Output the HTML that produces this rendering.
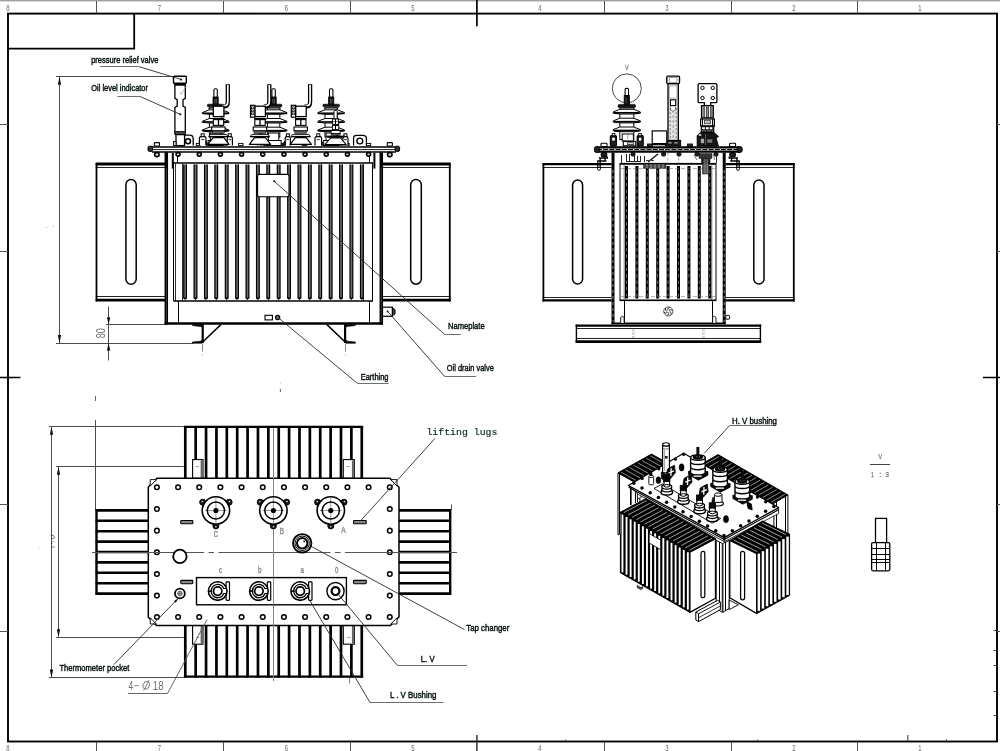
<!DOCTYPE html>
<html><head><meta charset="utf-8"><title>Transformer outline drawing</title>
<style>html,body{margin:0;padding:0;background:#fff;}body{width:1000px;height:751px;position:relative;overflow:hidden;font-family:"Liberation Sans",sans-serif;}</style></head>
<body>
<svg width="1000" height="751" viewBox="0 0 1000 751" style="display:block;position:absolute;left:0;top:0;will-change:transform;opacity:0.9999">
<rect x="0" y="0" width="1000" height="1.4" fill="#a0a0a0" stroke="none" stroke-width="0"/>
<rect x="8" y="13.6" width="989" height="727.9" fill="none" stroke="#000" stroke-width="1.9"/>
<polyline points="134.2,13.6 134.2,48.7 8,48.7" fill="none" stroke="#000" stroke-width="1.8" stroke-linejoin="miter"/>
<line x1="96.5" y1="1" x2="96.5" y2="13" stroke="#555" stroke-width="1"/>
<line x1="96.5" y1="742" x2="96.5" y2="751" stroke="#555" stroke-width="1"/>
<line x1="223.5" y1="1" x2="223.5" y2="13" stroke="#555" stroke-width="1"/>
<line x1="223.5" y1="742" x2="223.5" y2="751" stroke="#555" stroke-width="1"/>
<line x1="350.5" y1="1" x2="350.5" y2="13" stroke="#555" stroke-width="1"/>
<line x1="350.5" y1="742" x2="350.5" y2="751" stroke="#555" stroke-width="1"/>
<line x1="604.5" y1="1" x2="604.5" y2="13" stroke="#555" stroke-width="1"/>
<line x1="604.5" y1="742" x2="604.5" y2="751" stroke="#555" stroke-width="1"/>
<line x1="731.5" y1="1" x2="731.5" y2="13" stroke="#555" stroke-width="1"/>
<line x1="731.5" y1="742" x2="731.5" y2="751" stroke="#555" stroke-width="1"/>
<line x1="857.5" y1="1" x2="857.5" y2="13" stroke="#555" stroke-width="1"/>
<line x1="857.5" y1="742" x2="857.5" y2="751" stroke="#555" stroke-width="1"/>
<line x1="476.9" y1="0" x2="476.9" y2="26.3" stroke="#000" stroke-width="1.7"/>
<line x1="476.9" y1="735" x2="476.9" y2="751" stroke="#333" stroke-width="1.5"/>
<line x1="0" y1="377.5" x2="20.5" y2="377.5" stroke="#000" stroke-width="1.5"/>
<line x1="983" y1="377.5" x2="1000" y2="377.5" stroke="#000" stroke-width="1.5"/>
<line x1="0" y1="124.5" x2="8" y2="124.5" stroke="#555" stroke-width="1"/>
<line x1="997" y1="124.5" x2="1000" y2="124.5" stroke="#555" stroke-width="1"/>
<line x1="0" y1="251.5" x2="8" y2="251.5" stroke="#555" stroke-width="1"/>
<line x1="997" y1="251.5" x2="1000" y2="251.5" stroke="#555" stroke-width="1"/>
<line x1="0" y1="504.5" x2="8" y2="504.5" stroke="#555" stroke-width="1"/>
<line x1="997" y1="504.5" x2="1000" y2="504.5" stroke="#555" stroke-width="1"/>
<line x1="0" y1="631.5" x2="8" y2="631.5" stroke="#555" stroke-width="1"/>
<line x1="997" y1="631.5" x2="1000" y2="631.5" stroke="#555" stroke-width="1"/>
<text x="7.8" y="10.9" font-family="'Liberation Sans', sans-serif" font-size="8.8" fill="#6a6a6a" text-anchor="middle" textLength="3.3" lengthAdjust="spacingAndGlyphs">8</text>
<text x="7.8" y="750.8" font-family="'Liberation Sans', sans-serif" font-size="8.8" fill="#6a6a6a" text-anchor="middle" textLength="3.3" lengthAdjust="spacingAndGlyphs">8</text>
<text x="159.5" y="10.9" font-family="'Liberation Sans', sans-serif" font-size="8.8" fill="#6a6a6a" text-anchor="middle" textLength="3.3" lengthAdjust="spacingAndGlyphs">7</text>
<text x="159.5" y="750.8" font-family="'Liberation Sans', sans-serif" font-size="8.8" fill="#6a6a6a" text-anchor="middle" textLength="3.3" lengthAdjust="spacingAndGlyphs">7</text>
<text x="286.5" y="10.9" font-family="'Liberation Sans', sans-serif" font-size="8.8" fill="#6a6a6a" text-anchor="middle" textLength="3.3" lengthAdjust="spacingAndGlyphs">6</text>
<text x="286.5" y="750.8" font-family="'Liberation Sans', sans-serif" font-size="8.8" fill="#6a6a6a" text-anchor="middle" textLength="3.3" lengthAdjust="spacingAndGlyphs">6</text>
<text x="413" y="10.9" font-family="'Liberation Sans', sans-serif" font-size="8.8" fill="#6a6a6a" text-anchor="middle" textLength="3.3" lengthAdjust="spacingAndGlyphs">5</text>
<text x="413" y="750.8" font-family="'Liberation Sans', sans-serif" font-size="8.8" fill="#6a6a6a" text-anchor="middle" textLength="3.3" lengthAdjust="spacingAndGlyphs">5</text>
<text x="540" y="10.9" font-family="'Liberation Sans', sans-serif" font-size="8.8" fill="#6a6a6a" text-anchor="middle" textLength="3.3" lengthAdjust="spacingAndGlyphs">4</text>
<text x="540" y="750.8" font-family="'Liberation Sans', sans-serif" font-size="8.8" fill="#6a6a6a" text-anchor="middle" textLength="3.3" lengthAdjust="spacingAndGlyphs">4</text>
<text x="667" y="10.9" font-family="'Liberation Sans', sans-serif" font-size="8.8" fill="#6a6a6a" text-anchor="middle" textLength="3.3" lengthAdjust="spacingAndGlyphs">3</text>
<text x="667" y="750.8" font-family="'Liberation Sans', sans-serif" font-size="8.8" fill="#6a6a6a" text-anchor="middle" textLength="3.3" lengthAdjust="spacingAndGlyphs">3</text>
<text x="794" y="10.9" font-family="'Liberation Sans', sans-serif" font-size="8.8" fill="#6a6a6a" text-anchor="middle" textLength="3.3" lengthAdjust="spacingAndGlyphs">2</text>
<text x="794" y="750.8" font-family="'Liberation Sans', sans-serif" font-size="8.8" fill="#6a6a6a" text-anchor="middle" textLength="3.3" lengthAdjust="spacingAndGlyphs">2</text>
<text x="920" y="10.9" font-family="'Liberation Sans', sans-serif" font-size="8.8" fill="#6a6a6a" text-anchor="middle" textLength="3.3" lengthAdjust="spacingAndGlyphs">1</text>
<text x="920" y="750.8" font-family="'Liberation Sans', sans-serif" font-size="8.8" fill="#6a6a6a" text-anchor="middle" textLength="3.3" lengthAdjust="spacingAndGlyphs">1</text>
<line x1="993.5" y1="630.5" x2="996.5" y2="630.5" stroke="#444" stroke-width="1"/>
<line x1="993.5" y1="650.5" x2="996.5" y2="650.5" stroke="#444" stroke-width="1"/>
<line x1="993.5" y1="665.5" x2="996.5" y2="665.5" stroke="#444" stroke-width="1"/>
<line x1="993.5" y1="691.5" x2="996.5" y2="691.5" stroke="#444" stroke-width="1"/>
<line x1="993.5" y1="715.5" x2="996.5" y2="715.5" stroke="#444" stroke-width="1"/>
<line x1="907.8" y1="735" x2="907.8" y2="741" stroke="#555" stroke-width="1.2"/>
<line x1="946.5" y1="739" x2="946.5" y2="741" stroke="#777" stroke-width="1"/>
<line x1="757.5" y1="739.2" x2="757.5" y2="741" stroke="#777" stroke-width="1"/>
<line x1="565.5" y1="739.2" x2="565.5" y2="741" stroke="#777" stroke-width="1"/>
<line x1="56" y1="76.5" x2="173.5" y2="76.5" stroke="#4c4c4c" stroke-width="1"/>
<line x1="59.5" y1="77" x2="59.5" y2="343" stroke="#4c4c4c" stroke-width="1"/>
<polygon points="59.5,76.8 61.2,84.8 57.8,84.8" fill="#111" stroke="none" stroke-width="0" stroke-linejoin="miter"/>
<polygon points="59.5,343 57.8,335 61.2,335" fill="#111" stroke="none" stroke-width="0" stroke-linejoin="miter"/>
<line x1="56" y1="343.5" x2="193" y2="343.5" stroke="#4c4c4c" stroke-width="1"/>
<line x1="106" y1="324.5" x2="165" y2="324.5" stroke="#4c4c4c" stroke-width="1"/>
<line x1="108.5" y1="306.5" x2="108.5" y2="360.5" stroke="#4c4c4c" stroke-width="1"/>
<polygon points="108.6,324.6 106.9,317.2 110.3,317.2" fill="#111" stroke="none" stroke-width="0" stroke-linejoin="miter"/>
<polygon points="108.6,343.2 110.3,350.6 106.9,350.6" fill="#111" stroke="none" stroke-width="0" stroke-linejoin="miter"/>
<text x="105.2" y="338.3" font-family="'Liberation Sans', sans-serif" font-size="13.6" fill="#707070" textLength="10.2" lengthAdjust="spacingAndGlyphs" transform="rotate(-90 105.2 338.3)">80</text>
<circle cx="46.5" cy="227.6" r="0.5" fill="#999" stroke="none" stroke-width="0"/>
<circle cx="53.6" cy="226.6" r="0.5" fill="#999" stroke="none" stroke-width="0"/>
<rect x="95.7" y="163" width="69.8" height="138" fill="#fff" stroke="none" stroke-width="0"/>
<line x1="95.7" y1="164" x2="165.5" y2="164" stroke="#000" stroke-width="3"/>
<line x1="95.7" y1="167.5" x2="165.5" y2="167.5" stroke="#222" stroke-width="1"/>
<line x1="95.7" y1="296.5" x2="165.5" y2="296.5" stroke="#222" stroke-width="1"/>
<line x1="95.7" y1="300.1" x2="165.5" y2="300.1" stroke="#000" stroke-width="2.8"/>
<line x1="96.5" y1="163" x2="96.5" y2="301.4" stroke="#000" stroke-width="1.8"/>
<rect x="382" y="163" width="68.6" height="138" fill="#fff" stroke="none" stroke-width="0"/>
<line x1="382" y1="164" x2="450.6" y2="164" stroke="#000" stroke-width="3"/>
<line x1="382" y1="167.5" x2="450.6" y2="167.5" stroke="#222" stroke-width="1"/>
<line x1="382" y1="296.5" x2="450.6" y2="296.5" stroke="#222" stroke-width="1"/>
<line x1="382" y1="300.1" x2="450.6" y2="300.1" stroke="#000" stroke-width="2.8"/>
<line x1="449.8" y1="163" x2="449.8" y2="301.4" stroke="#000" stroke-width="1.8"/>
<rect x="125.9" y="179.5" width="10.3" height="104.7" fill="#fff" stroke="#000" stroke-width="1.5" rx="5.15"/>
<rect x="410.7" y="179.5" width="10.6" height="104.7" fill="#fff" stroke="#000" stroke-width="1.5" rx="5.3"/>
<line x1="166.3" y1="151" x2="166.3" y2="324.5" stroke="#000" stroke-width="3.5"/>
<line x1="166.3" y1="168" x2="166.3" y2="322" stroke="#555" stroke-width="0.7"/>
<line x1="381.3" y1="151" x2="381.3" y2="324.5" stroke="#000" stroke-width="3.5"/>
<line x1="381.3" y1="168" x2="381.3" y2="322" stroke="#555" stroke-width="0.7"/>
<line x1="173.5" y1="163" x2="173.5" y2="301" stroke="#000" stroke-width="1"/>
<line x1="372.5" y1="163" x2="372.5" y2="301" stroke="#000" stroke-width="1"/>
<line x1="172.8" y1="153" x2="172.8" y2="168.6" stroke="#000" stroke-width="2"/>
<line x1="374.4" y1="153" x2="374.4" y2="168.6" stroke="#000" stroke-width="2"/>
<line x1="173" y1="163" x2="373.4" y2="163" stroke="#000" stroke-width="1.7"/>
<line x1="175.5" y1="164" x2="175.5" y2="301" stroke="#333" stroke-width="1"/>
<line x1="182.5" y1="164" x2="182.5" y2="301" stroke="#333" stroke-width="1"/>
<line x1="363.5" y1="164" x2="363.5" y2="301" stroke="#333" stroke-width="1"/>
<rect x="183.4" y="164.5" width="3.4" height="134.3" fill="#6e6e6e" stroke="none" stroke-width="0"/>
<line x1="183.75" y1="164.5" x2="183.75" y2="298.6" stroke="#000" stroke-width="1.15"/>
<line x1="186.45" y1="164.5" x2="186.45" y2="298.6" stroke="#000" stroke-width="1.15"/>
<polygon points="183.2,297.5 187,297.5 185.1,300.2" fill="#000" stroke="none" stroke-width="0" stroke-linejoin="miter"/>
<rect x="193.8" y="164.5" width="3.4" height="134.3" fill="#6e6e6e" stroke="none" stroke-width="0"/>
<line x1="194.15" y1="164.5" x2="194.15" y2="298.6" stroke="#000" stroke-width="1.15"/>
<line x1="196.84" y1="164.5" x2="196.84" y2="298.6" stroke="#000" stroke-width="1.15"/>
<polygon points="193.59,297.5 197.4,297.5 195.5,300.2" fill="#000" stroke="none" stroke-width="0" stroke-linejoin="miter"/>
<rect x="204.19" y="164.5" width="3.4" height="134.3" fill="#6e6e6e" stroke="none" stroke-width="0"/>
<line x1="204.54" y1="164.5" x2="204.54" y2="298.6" stroke="#000" stroke-width="1.15"/>
<line x1="207.24" y1="164.5" x2="207.24" y2="298.6" stroke="#000" stroke-width="1.15"/>
<polygon points="203.99,297.5 207.79,297.5 205.89,300.2" fill="#000" stroke="none" stroke-width="0" stroke-linejoin="miter"/>
<rect x="214.59" y="164.5" width="3.4" height="134.3" fill="#6e6e6e" stroke="none" stroke-width="0"/>
<line x1="214.94" y1="164.5" x2="214.94" y2="298.6" stroke="#000" stroke-width="1.15"/>
<line x1="217.63" y1="164.5" x2="217.63" y2="298.6" stroke="#000" stroke-width="1.15"/>
<polygon points="214.38,297.5 218.19,297.5 216.28,300.2" fill="#000" stroke="none" stroke-width="0" stroke-linejoin="miter"/>
<rect x="224.98" y="164.5" width="3.4" height="134.3" fill="#6e6e6e" stroke="none" stroke-width="0"/>
<line x1="225.33" y1="164.5" x2="225.33" y2="298.6" stroke="#000" stroke-width="1.15"/>
<line x1="228.03" y1="164.5" x2="228.03" y2="298.6" stroke="#000" stroke-width="1.15"/>
<polygon points="224.78,297.5 228.58,297.5 226.68,300.2" fill="#000" stroke="none" stroke-width="0" stroke-linejoin="miter"/>
<rect x="235.38" y="164.5" width="3.4" height="134.3" fill="#6e6e6e" stroke="none" stroke-width="0"/>
<line x1="235.72" y1="164.5" x2="235.72" y2="298.6" stroke="#000" stroke-width="1.15"/>
<line x1="238.42" y1="164.5" x2="238.42" y2="298.6" stroke="#000" stroke-width="1.15"/>
<polygon points="235.17,297.5 238.97,297.5 237.07,300.2" fill="#000" stroke="none" stroke-width="0" stroke-linejoin="miter"/>
<rect x="245.77" y="164.5" width="3.4" height="134.3" fill="#6e6e6e" stroke="none" stroke-width="0"/>
<line x1="246.12" y1="164.5" x2="246.12" y2="298.6" stroke="#000" stroke-width="1.15"/>
<line x1="248.82" y1="164.5" x2="248.82" y2="298.6" stroke="#000" stroke-width="1.15"/>
<polygon points="245.57,297.5 249.37,297.5 247.47,300.2" fill="#000" stroke="none" stroke-width="0" stroke-linejoin="miter"/>
<rect x="256.17" y="164.5" width="3.4" height="134.3" fill="#6e6e6e" stroke="none" stroke-width="0"/>
<line x1="256.51" y1="164.5" x2="256.51" y2="298.6" stroke="#000" stroke-width="1.15"/>
<line x1="259.22" y1="164.5" x2="259.22" y2="298.6" stroke="#000" stroke-width="1.15"/>
<polygon points="255.97,297.5 259.76,297.5 257.87,300.2" fill="#000" stroke="none" stroke-width="0" stroke-linejoin="miter"/>
<rect x="266.56" y="164.5" width="3.4" height="134.3" fill="#6e6e6e" stroke="none" stroke-width="0"/>
<line x1="266.91" y1="164.5" x2="266.91" y2="298.6" stroke="#000" stroke-width="1.15"/>
<line x1="269.61" y1="164.5" x2="269.61" y2="298.6" stroke="#000" stroke-width="1.15"/>
<polygon points="266.36,297.5 270.16,297.5 268.26,300.2" fill="#000" stroke="none" stroke-width="0" stroke-linejoin="miter"/>
<rect x="276.95" y="164.5" width="3.4" height="134.3" fill="#6e6e6e" stroke="none" stroke-width="0"/>
<line x1="277.3" y1="164.5" x2="277.3" y2="298.6" stroke="#000" stroke-width="1.15"/>
<line x1="280" y1="164.5" x2="280" y2="298.6" stroke="#000" stroke-width="1.15"/>
<polygon points="276.75,297.5 280.55,297.5 278.65,300.2" fill="#000" stroke="none" stroke-width="0" stroke-linejoin="miter"/>
<rect x="287.35" y="164.5" width="3.4" height="134.3" fill="#6e6e6e" stroke="none" stroke-width="0"/>
<line x1="287.7" y1="164.5" x2="287.7" y2="298.6" stroke="#000" stroke-width="1.15"/>
<line x1="290.4" y1="164.5" x2="290.4" y2="298.6" stroke="#000" stroke-width="1.15"/>
<polygon points="287.15,297.5 290.95,297.5 289.05,300.2" fill="#000" stroke="none" stroke-width="0" stroke-linejoin="miter"/>
<rect x="297.75" y="164.5" width="3.4" height="134.3" fill="#6e6e6e" stroke="none" stroke-width="0"/>
<line x1="298.09" y1="164.5" x2="298.09" y2="298.6" stroke="#000" stroke-width="1.15"/>
<line x1="300.8" y1="164.5" x2="300.8" y2="298.6" stroke="#000" stroke-width="1.15"/>
<polygon points="297.55,297.5 301.34,297.5 299.44,300.2" fill="#000" stroke="none" stroke-width="0" stroke-linejoin="miter"/>
<rect x="308.14" y="164.5" width="3.4" height="134.3" fill="#6e6e6e" stroke="none" stroke-width="0"/>
<line x1="308.49" y1="164.5" x2="308.49" y2="298.6" stroke="#000" stroke-width="1.15"/>
<line x1="311.19" y1="164.5" x2="311.19" y2="298.6" stroke="#000" stroke-width="1.15"/>
<polygon points="307.94,297.5 311.74,297.5 309.84,300.2" fill="#000" stroke="none" stroke-width="0" stroke-linejoin="miter"/>
<rect x="318.54" y="164.5" width="3.4" height="134.3" fill="#6e6e6e" stroke="none" stroke-width="0"/>
<line x1="318.88" y1="164.5" x2="318.88" y2="298.6" stroke="#000" stroke-width="1.15"/>
<line x1="321.59" y1="164.5" x2="321.59" y2="298.6" stroke="#000" stroke-width="1.15"/>
<polygon points="318.34,297.5 322.13,297.5 320.24,300.2" fill="#000" stroke="none" stroke-width="0" stroke-linejoin="miter"/>
<rect x="328.93" y="164.5" width="3.4" height="134.3" fill="#6e6e6e" stroke="none" stroke-width="0"/>
<line x1="329.28" y1="164.5" x2="329.28" y2="298.6" stroke="#000" stroke-width="1.15"/>
<line x1="331.98" y1="164.5" x2="331.98" y2="298.6" stroke="#000" stroke-width="1.15"/>
<polygon points="328.73,297.5 332.53,297.5 330.63,300.2" fill="#000" stroke="none" stroke-width="0" stroke-linejoin="miter"/>
<rect x="339.32" y="164.5" width="3.4" height="134.3" fill="#6e6e6e" stroke="none" stroke-width="0"/>
<line x1="339.67" y1="164.5" x2="339.67" y2="298.6" stroke="#000" stroke-width="1.15"/>
<line x1="342.38" y1="164.5" x2="342.38" y2="298.6" stroke="#000" stroke-width="1.15"/>
<polygon points="339.12,297.5 342.92,297.5 341.02,300.2" fill="#000" stroke="none" stroke-width="0" stroke-linejoin="miter"/>
<rect x="349.72" y="164.5" width="3.4" height="134.3" fill="#6e6e6e" stroke="none" stroke-width="0"/>
<line x1="350.07" y1="164.5" x2="350.07" y2="298.6" stroke="#000" stroke-width="1.15"/>
<line x1="352.77" y1="164.5" x2="352.77" y2="298.6" stroke="#000" stroke-width="1.15"/>
<polygon points="349.52,297.5 353.32,297.5 351.42,300.2" fill="#000" stroke="none" stroke-width="0" stroke-linejoin="miter"/>
<rect x="360.12" y="164.5" width="3.4" height="134.3" fill="#6e6e6e" stroke="none" stroke-width="0"/>
<line x1="360.46" y1="164.5" x2="360.46" y2="298.6" stroke="#000" stroke-width="1.15"/>
<line x1="363.17" y1="164.5" x2="363.17" y2="298.6" stroke="#000" stroke-width="1.15"/>
<polygon points="359.92,297.5 363.71,297.5 361.81,300.2" fill="#000" stroke="none" stroke-width="0" stroke-linejoin="miter"/>
<line x1="173.6" y1="301" x2="373" y2="301" stroke="#000" stroke-width="1.4"/>
<line x1="178.5" y1="301" x2="178.5" y2="323.5" stroke="#000" stroke-width="1"/>
<line x1="369.5" y1="301" x2="369.5" y2="323.5" stroke="#000" stroke-width="1"/>
<line x1="164.6" y1="323.5" x2="383" y2="323.5" stroke="#000" stroke-width="2.7"/>
<rect x="265" y="315.3" width="7.4" height="4.6" fill="#fff" stroke="#000" stroke-width="1.1"/>
<circle cx="277.7" cy="317.5" r="2.1" fill="#777" stroke="#000" stroke-width="1.1"/>
<rect x="257.6" y="174.4" width="31.4" height="22.4" fill="#fff" stroke="#000" stroke-width="1.1" rx="1.8"/>
<circle cx="274.3" cy="181.3" r="1.1" fill="#111" stroke="none" stroke-width="0"/>
<rect x="382.5" y="307.2" width="9.9" height="9.1" fill="#fff" stroke="#000" stroke-width="1.2"/>
<polygon points="392.4,308 395,309.6 395,314 392.4,315.6" fill="#444" stroke="#000" stroke-width="1" stroke-linejoin="miter"/>
<circle cx="387.6" cy="311.6" r="1" fill="#111" stroke="none" stroke-width="0"/>
<line x1="202.7" y1="324" x2="202.7" y2="343" stroke="#000" stroke-width="2.2"/>
<polygon points="192.4,324.6 202.7,324.6 202.7,327.2 200.2,326.4 192.4,325.6" fill="#000" stroke="#000" stroke-width="0.6" stroke-linejoin="round"/>
<polygon points="192.4,343.3 201.7,343.3 201.7,340.2 200.2,341.2 192.4,342" fill="#000" stroke="#000" stroke-width="0.6" stroke-linejoin="round"/>
<line x1="221.1" y1="324.4" x2="201.9" y2="342.8" stroke="#000" stroke-width="1.5"/>
<line x1="202.5" y1="343.5" x2="202.5" y2="351.5" stroke="#888" stroke-width="1"/>
<circle cx="202.3" cy="355" r="0.6" fill="#999" stroke="none" stroke-width="0"/>
<line x1="345.1" y1="324" x2="345.1" y2="343" stroke="#000" stroke-width="2.2"/>
<polygon points="355.4,324.6 345.1,324.6 345.1,327.2 347.6,326.4 355.4,325.6" fill="#000" stroke="#000" stroke-width="0.6" stroke-linejoin="round"/>
<polygon points="355.4,343.3 346.1,343.3 346.1,340.2 347.6,341.2 355.4,342" fill="#000" stroke="#000" stroke-width="0.6" stroke-linejoin="round"/>
<line x1="326.7" y1="324.4" x2="345.9" y2="342.8" stroke="#000" stroke-width="1.5"/>
<line x1="345.5" y1="343.5" x2="345.5" y2="351.5" stroke="#888" stroke-width="1"/>
<circle cx="345.5" cy="355" r="0.6" fill="#999" stroke="none" stroke-width="0"/>
<rect x="149" y="145.6" width="249.6" height="6.6" fill="#fff" stroke="none" stroke-width="0"/>
<line x1="152" y1="147" x2="396" y2="147" stroke="#000" stroke-width="1.6"/>
<line x1="152" y1="149.6" x2="396" y2="149.6" stroke="#000" stroke-width="0.9"/>
<line x1="152" y1="152.1" x2="396" y2="152.1" stroke="#000" stroke-width="1.5"/>
<rect x="148" y="146.2" width="4.5" height="5.2" fill="#333" stroke="#000" stroke-width="1" rx="1.5"/>
<rect x="154.3" y="142.6" width="5.2" height="3.4" fill="#fff" stroke="#000" stroke-width="1.1" rx="0.8"/>
<rect x="154.7" y="152.6" width="4.4" height="4" fill="#ddd" stroke="#000" stroke-width="1.7" rx="1.6"/>
<rect x="395.1" y="146.2" width="4.5" height="5.2" fill="#333" stroke="#000" stroke-width="1" rx="1.5"/>
<rect x="387.2" y="142.6" width="5.2" height="3.4" fill="#fff" stroke="#000" stroke-width="1.1" rx="0.8"/>
<rect x="387.6" y="152.6" width="4.4" height="4" fill="#ddd" stroke="#000" stroke-width="1.7" rx="1.6"/>
<rect x="176.07" y="152.6" width="4" height="3.6" fill="#ddd" stroke="#000" stroke-width="1.7" rx="1.6"/>
<rect x="197.24" y="152.6" width="4" height="3.6" fill="#ddd" stroke="#000" stroke-width="1.7" rx="1.6"/>
<rect x="218.41" y="152.6" width="4" height="3.6" fill="#ddd" stroke="#000" stroke-width="1.7" rx="1.6"/>
<rect x="239.58" y="152.6" width="4" height="3.6" fill="#ddd" stroke="#000" stroke-width="1.7" rx="1.6"/>
<rect x="260.75" y="152.6" width="4" height="3.6" fill="#ddd" stroke="#000" stroke-width="1.7" rx="1.6"/>
<rect x="281.92" y="152.6" width="4" height="3.6" fill="#ddd" stroke="#000" stroke-width="1.7" rx="1.6"/>
<rect x="303.09" y="152.6" width="4" height="3.6" fill="#ddd" stroke="#000" stroke-width="1.7" rx="1.6"/>
<rect x="324.26" y="152.6" width="4" height="3.6" fill="#ddd" stroke="#000" stroke-width="1.7" rx="1.6"/>
<rect x="345.43" y="152.6" width="4" height="3.6" fill="#ddd" stroke="#000" stroke-width="1.7" rx="1.6"/>
<rect x="366.6" y="152.6" width="4" height="3.6" fill="#ddd" stroke="#000" stroke-width="1.7" rx="1.6"/>
<rect x="196.3" y="143.4" width="4.4" height="2.2" fill="#fff" stroke="#000" stroke-width="0.9"/>
<rect x="238.6" y="143.4" width="4.4" height="2.2" fill="#fff" stroke="#000" stroke-width="0.9"/>
<rect x="259.8" y="143.4" width="4.4" height="2.2" fill="#fff" stroke="#000" stroke-width="0.9"/>
<rect x="280.8" y="143.4" width="4.4" height="2.2" fill="#fff" stroke="#000" stroke-width="0.9"/>
<rect x="302.3" y="143.4" width="4.4" height="2.2" fill="#fff" stroke="#000" stroke-width="0.9"/>
<rect x="344.8" y="143.4" width="4.4" height="2.2" fill="#fff" stroke="#000" stroke-width="0.9"/>
<rect x="366.3" y="143.4" width="4.4" height="2.2" fill="#fff" stroke="#000" stroke-width="0.9"/>
<line x1="177.5" y1="156.5" x2="177.5" y2="163" stroke="#000" stroke-width="1"/>
<line x1="369.5" y1="156.5" x2="369.5" y2="163" stroke="#000" stroke-width="1"/>
<rect x="173.5" y="76.3" width="12.8" height="6.9" fill="#fff" stroke="#000" stroke-width="1.4" rx="0.8"/>
<circle cx="181.1" cy="79.6" r="1.1" fill="#111" stroke="none" stroke-width="0"/>
<line x1="174.2" y1="84.6" x2="185.6" y2="84.6" stroke="#000" stroke-width="1.4"/>
<path d="M174.9 85 L174.9 98.4 L177.2 99.6 L177.2 106.2 L174.9 107.4 L174.9 133 L185.3 133 L185.3 107.4 L183 106.2 L183 99.6 L185.3 98.4 L185.3 85 Z" fill="#fff" stroke="#000" stroke-width="1.3"/>
<circle cx="180.3" cy="114.3" r="1.1" fill="#111" stroke="none" stroke-width="0"/>
<line x1="186.5" y1="86" x2="181.5" y2="93.5" stroke="#999" stroke-width="0.6"/>
<circle cx="181.2" cy="93.4" r="0.9" fill="none" stroke="#999" stroke-width="0.5"/>
<rect x="174.9" y="131.6" width="10.4" height="3" fill="#444" stroke="#000" stroke-width="0.8"/>
<rect x="176" y="134.6" width="8.6" height="11" fill="#fff" stroke="#000" stroke-width="1.3"/>
<rect x="173.6" y="141.5" width="2.4" height="4.1" fill="#fff" stroke="#000" stroke-width="1"/>
<path d="M184.6 145.4 L184.6 135.2 L189.6 135.2 Q193.2 135.2 193.2 139 L193.2 145.4" fill="#fff" stroke="#000" stroke-width="1.3"/>
<circle cx="188" cy="141.2" r="2.5" fill="#fff" stroke="#000" stroke-width="1.5"/>
<path d="M353.6 145.4 L353.6 138 Q353.6 135.4 356.5 135.4 L363 135.4 Q366.4 135.4 366.4 138.5 L366.4 145.4" fill="#fff" stroke="#000" stroke-width="1.2"/>
<circle cx="359.8" cy="141" r="2.9" fill="#fff" stroke="#000" stroke-width="1.4"/>
<rect x="213.9" y="88.8" width="3.4" height="8.7" fill="#fff" stroke="#000" stroke-width="1.1" rx="1.2"/>
<rect x="213" y="97" width="5.2" height="7.5" fill="#111" stroke="#000" stroke-width="0.8"/>
<line x1="215" y1="99" x2="215" y2="103.5" stroke="#999" stroke-width="0.5"/>
<line x1="216.4" y1="99" x2="216.4" y2="103.5" stroke="#999" stroke-width="0.5"/>
<rect x="207.3" y="104.2" width="16.6" height="2.6" fill="#111" stroke="#000" stroke-width="0.6" rx="1"/>
<rect x="208.6" y="106.8" width="14" height="1.6" fill="#666" stroke="#222" stroke-width="0.4"/>
<rect x="209.4" y="108" width="12.4" height="29" fill="#fff" stroke="#000" stroke-width="1"/>
<polygon points="209.4,109.8 221.8,109.8 229,112.6 229,113.6 221.8,114.3 209.4,114.3 202.2,113.6 202.2,112.6" fill="#fff" stroke="#000" stroke-width="1" stroke-linejoin="round"/>
<line x1="203" y1="113.2" x2="228.2" y2="113.2" stroke="#000" stroke-width="1.5"/>
<polygon points="209.4,118.5 221.8,118.5 229,121.3 229,122.3 221.8,123 209.4,123 202.2,122.3 202.2,121.3" fill="#fff" stroke="#000" stroke-width="1" stroke-linejoin="round"/>
<line x1="203" y1="121.9" x2="228.2" y2="121.9" stroke="#000" stroke-width="1.5"/>
<polygon points="209.4,127.2 221.8,127.2 229,130 229,131 221.8,131.7 209.4,131.7 202.2,131 202.2,130" fill="#fff" stroke="#000" stroke-width="1" stroke-linejoin="round"/>
<line x1="203" y1="130.6" x2="228.2" y2="130.6" stroke="#000" stroke-width="1.5"/>
<rect x="210.4" y="133" width="10.4" height="8" fill="#fff" stroke="#000" stroke-width="1"/>
<rect x="208.1" y="140.5" width="15" height="5" fill="#fff" stroke="#000" stroke-width="1"/>
<path d="M199.4 145.5 L199.4 138.4 Q199.4 136.6 201 136.6 L204.4 136.6 Q206 136.6 206 138.4 L206 145.5" fill="#fff" stroke="#000" stroke-width="1.2"/>
<rect x="201.2" y="133.8" width="3" height="2.8" fill="#fff" stroke="#000" stroke-width="1"/>
<line x1="201.2" y1="139.6" x2="204.2" y2="139.6" stroke="#000" stroke-width="0.8"/>
<path d="M227.2 145.5 L227.2 138.4 Q227.2 136.6 228.8 136.6 L230.8 136.6 Q232.4 136.6 232.4 138.4 L232.4 145.5" fill="#fff" stroke="#000" stroke-width="1.2"/>
<rect x="228.3" y="133.8" width="3" height="2.8" fill="#fff" stroke="#000" stroke-width="1"/>
<line x1="228.3" y1="139.6" x2="231.3" y2="139.6" stroke="#000" stroke-width="0.8"/>
<polygon points="208.1,145.2 206,141 206,145.2" fill="#222" stroke="#000" stroke-width="0.8" stroke-linejoin="miter"/>
<polygon points="223.1,145.2 227.2,141 227.2,145.2" fill="#222" stroke="#000" stroke-width="0.8" stroke-linejoin="miter"/>
<path d="M 227.8 84.2 L 227.8 101.5 Q 227.8 106.3 224.8 106.3 L 222.3 106.3" fill="none" stroke="#000" stroke-width="4.3"/>
<path d="M 227.8 84.9 L 227.8 101.5 Q 227.6 105.6 224.8 105.6 L 222.3 105.6" fill="none" stroke="#fff" stroke-width="1.7"/>
<rect x="213.3" y="106.2" width="10.6" height="10.4" fill="#fff" stroke="#000" stroke-width="1.3"/>
<rect x="213.3" y="119.6" width="10.4" height="5.8" fill="#fff" stroke="#000" stroke-width="1.1"/>
<line x1="218.5" y1="119.6" x2="218.5" y2="125.4" stroke="#000" stroke-width="1.3"/>
<line x1="212.7" y1="118.5" x2="224.3" y2="118.5" stroke="#000" stroke-width="1"/>
<rect x="211.7" y="127" width="13.4" height="3.8" fill="#fff" stroke="#000" stroke-width="1.1"/>
<rect x="212.5" y="131" width="11.8" height="2.4" fill="#666" stroke="#000" stroke-width="0.5"/>
<polygon points="208.8,136.4 228.1,136.4 226.5,134.4 210.3,134.4" fill="#fff" stroke="#000" stroke-width="0.9" stroke-linejoin="round"/>
<line x1="208.7" y1="136.7" x2="228.1" y2="136.7" stroke="#000" stroke-width="1.3"/>
<polygon points="213.1,137.6 223.9,137.6 229.1,144.4 207.9,144.4" fill="#fff" stroke="#000" stroke-width="1.2" stroke-linejoin="round"/>
<rect x="271.9" y="88.8" width="3.4" height="8.7" fill="#fff" stroke="#000" stroke-width="1.1" rx="1.2"/>
<rect x="271" y="97" width="5.2" height="7.5" fill="#111" stroke="#000" stroke-width="0.8"/>
<line x1="273" y1="99" x2="273" y2="103.5" stroke="#999" stroke-width="0.5"/>
<line x1="274.4" y1="99" x2="274.4" y2="103.5" stroke="#999" stroke-width="0.5"/>
<rect x="265.3" y="104.2" width="16.6" height="2.6" fill="#111" stroke="#000" stroke-width="0.6" rx="1"/>
<rect x="266.6" y="106.8" width="14" height="1.6" fill="#666" stroke="#222" stroke-width="0.4"/>
<rect x="267.4" y="108" width="12.4" height="29" fill="#fff" stroke="#000" stroke-width="1"/>
<polygon points="267.4,109.8 279.8,109.8 287,112.6 287,113.6 279.8,114.3 267.4,114.3 260.2,113.6 260.2,112.6" fill="#fff" stroke="#000" stroke-width="1" stroke-linejoin="round"/>
<line x1="261" y1="113.2" x2="286.2" y2="113.2" stroke="#000" stroke-width="1.5"/>
<polygon points="267.4,118.5 279.8,118.5 287,121.3 287,122.3 279.8,123 267.4,123 260.2,122.3 260.2,121.3" fill="#fff" stroke="#000" stroke-width="1" stroke-linejoin="round"/>
<line x1="261" y1="121.9" x2="286.2" y2="121.9" stroke="#000" stroke-width="1.5"/>
<polygon points="267.4,127.2 279.8,127.2 287,130 287,131 279.8,131.7 267.4,131.7 260.2,131 260.2,130" fill="#fff" stroke="#000" stroke-width="1" stroke-linejoin="round"/>
<line x1="261" y1="130.6" x2="286.2" y2="130.6" stroke="#000" stroke-width="1.5"/>
<rect x="268.4" y="133" width="10.4" height="8" fill="#fff" stroke="#000" stroke-width="1"/>
<rect x="266.1" y="140.5" width="15" height="5" fill="#fff" stroke="#000" stroke-width="1"/>
<path d="M257.4 145.5 L257.4 138.4 Q257.4 136.6 259 136.6 L262.4 136.6 Q264 136.6 264 138.4 L264 145.5" fill="#fff" stroke="#000" stroke-width="1.2"/>
<rect x="259.2" y="133.8" width="3" height="2.8" fill="#fff" stroke="#000" stroke-width="1"/>
<line x1="259.2" y1="139.6" x2="262.2" y2="139.6" stroke="#000" stroke-width="0.8"/>
<path d="M285.2 145.5 L285.2 138.4 Q285.2 136.6 286.8 136.6 L288.8 136.6 Q290.4 136.6 290.4 138.4 L290.4 145.5" fill="#fff" stroke="#000" stroke-width="1.2"/>
<rect x="286.3" y="133.8" width="3" height="2.8" fill="#fff" stroke="#000" stroke-width="1"/>
<line x1="286.3" y1="139.6" x2="289.3" y2="139.6" stroke="#000" stroke-width="0.8"/>
<polygon points="266.1,145.2 264,141 264,145.2" fill="#222" stroke="#000" stroke-width="0.8" stroke-linejoin="miter"/>
<polygon points="281.1,145.2 285.2,141 285.2,145.2" fill="#222" stroke="#000" stroke-width="0.8" stroke-linejoin="miter"/>
<path d="M 269.3 84.2 L 269.3 101.5 Q 269.3 106.3 266.3 106.3 L 263.8 106.3" fill="none" stroke="#000" stroke-width="4.3"/>
<path d="M 269.3 84.9 L 269.3 101.5 Q 269.1 105.6 266.3 105.6 L 263.8 105.6" fill="none" stroke="#fff" stroke-width="1.7"/>
<rect x="254.8" y="106.2" width="10.6" height="10.4" fill="#fff" stroke="#000" stroke-width="1.3"/>
<rect x="250.5" y="105.3" width="4.3" height="11.9" fill="#fff" stroke="#000" stroke-width="1.2"/>
<rect x="251.4" y="106.9" width="2.2" height="1.8" fill="#fff" stroke="#000" stroke-width="0.7"/>
<rect x="251.4" y="109.9" width="2.2" height="1.8" fill="#fff" stroke="#000" stroke-width="0.7"/>
<rect x="251.4" y="112.9" width="2.2" height="1.8" fill="#fff" stroke="#000" stroke-width="0.7"/>
<rect x="254.8" y="119.6" width="10.4" height="5.8" fill="#fff" stroke="#000" stroke-width="1.1"/>
<line x1="260" y1="119.6" x2="260" y2="125.4" stroke="#000" stroke-width="1.3"/>
<line x1="254.2" y1="118.5" x2="265.8" y2="118.5" stroke="#000" stroke-width="1"/>
<rect x="253.2" y="127" width="13.4" height="3.8" fill="#fff" stroke="#000" stroke-width="1.1"/>
<rect x="254" y="131" width="11.8" height="2.4" fill="#666" stroke="#000" stroke-width="0.5"/>
<polygon points="250.3,136.4 269.6,136.4 268,134.4 251.8,134.4" fill="#fff" stroke="#000" stroke-width="0.9" stroke-linejoin="round"/>
<line x1="250.2" y1="136.7" x2="269.6" y2="136.7" stroke="#000" stroke-width="1.3"/>
<polygon points="254.6,137.6 265.4,137.6 270.6,144.4 249.4,144.4" fill="#fff" stroke="#000" stroke-width="1.2" stroke-linejoin="round"/>
<path d="M 310.1 84.2 L 310.1 101.5 Q 310.1 106.3 307.1 106.3 L 304.6 106.3" fill="none" stroke="#000" stroke-width="4.3"/>
<path d="M 310.1 84.9 L 310.1 101.5 Q 309.9 105.6 307.1 105.6 L 304.6 105.6" fill="none" stroke="#fff" stroke-width="1.7"/>
<rect x="295.6" y="106.2" width="10.6" height="10.4" fill="#fff" stroke="#000" stroke-width="1.3"/>
<rect x="291.3" y="105.3" width="4.3" height="11.9" fill="#fff" stroke="#000" stroke-width="1.2"/>
<rect x="292.2" y="106.9" width="2.2" height="1.8" fill="#fff" stroke="#000" stroke-width="0.7"/>
<rect x="292.2" y="109.9" width="2.2" height="1.8" fill="#fff" stroke="#000" stroke-width="0.7"/>
<rect x="292.2" y="112.9" width="2.2" height="1.8" fill="#fff" stroke="#000" stroke-width="0.7"/>
<rect x="295.6" y="119.6" width="10.4" height="5.8" fill="#fff" stroke="#000" stroke-width="1.1"/>
<line x1="300.8" y1="119.6" x2="300.8" y2="125.4" stroke="#000" stroke-width="1.3"/>
<line x1="295" y1="118.5" x2="306.6" y2="118.5" stroke="#000" stroke-width="1"/>
<rect x="294" y="127" width="13.4" height="3.8" fill="#fff" stroke="#000" stroke-width="1.1"/>
<rect x="294.8" y="131" width="11.8" height="2.4" fill="#666" stroke="#000" stroke-width="0.5"/>
<polygon points="291.1,136.4 310.4,136.4 308.8,134.4 292.6,134.4" fill="#fff" stroke="#000" stroke-width="0.9" stroke-linejoin="round"/>
<line x1="291" y1="136.7" x2="310.4" y2="136.7" stroke="#000" stroke-width="1.3"/>
<polygon points="295.4,137.6 306.2,137.6 311.4,144.4 290.2,144.4" fill="#fff" stroke="#000" stroke-width="1.2" stroke-linejoin="round"/>
<rect x="329.5" y="88.8" width="3.4" height="8.7" fill="#fff" stroke="#000" stroke-width="1.1" rx="1.2"/>
<rect x="328.6" y="97" width="5.2" height="7.5" fill="#111" stroke="#000" stroke-width="0.8"/>
<line x1="330.6" y1="99" x2="330.6" y2="103.5" stroke="#999" stroke-width="0.5"/>
<line x1="332" y1="99" x2="332" y2="103.5" stroke="#999" stroke-width="0.5"/>
<rect x="322.9" y="104.2" width="16.6" height="2.6" fill="#111" stroke="#000" stroke-width="0.6" rx="1"/>
<rect x="324.2" y="106.8" width="14" height="1.6" fill="#666" stroke="#222" stroke-width="0.4"/>
<rect x="325" y="108" width="12.4" height="29" fill="#fff" stroke="#000" stroke-width="1"/>
<polygon points="325,109.8 337.4,109.8 344.6,112.6 344.6,113.6 337.4,114.3 325,114.3 317.8,113.6 317.8,112.6" fill="#fff" stroke="#000" stroke-width="1" stroke-linejoin="round"/>
<line x1="318.6" y1="113.2" x2="343.8" y2="113.2" stroke="#000" stroke-width="1.5"/>
<polygon points="325,118.5 337.4,118.5 344.6,121.3 344.6,122.3 337.4,123 325,123 317.8,122.3 317.8,121.3" fill="#fff" stroke="#000" stroke-width="1" stroke-linejoin="round"/>
<line x1="318.6" y1="121.9" x2="343.8" y2="121.9" stroke="#000" stroke-width="1.5"/>
<polygon points="325,127.2 337.4,127.2 344.6,130 344.6,131 337.4,131.7 325,131.7 317.8,131 317.8,130" fill="#fff" stroke="#000" stroke-width="1" stroke-linejoin="round"/>
<line x1="318.6" y1="130.6" x2="343.8" y2="130.6" stroke="#000" stroke-width="1.5"/>
<rect x="326" y="133" width="10.4" height="8" fill="#fff" stroke="#000" stroke-width="1"/>
<rect x="323.7" y="140.5" width="15" height="5" fill="#fff" stroke="#000" stroke-width="1"/>
<path d="M315 145.5 L315 138.4 Q315 136.6 316.6 136.6 L320 136.6 Q321.6 136.6 321.6 138.4 L321.6 145.5" fill="#fff" stroke="#000" stroke-width="1.2"/>
<rect x="316.8" y="133.8" width="3" height="2.8" fill="#fff" stroke="#000" stroke-width="1"/>
<line x1="316.8" y1="139.6" x2="319.8" y2="139.6" stroke="#000" stroke-width="0.8"/>
<path d="M342.8 145.5 L342.8 138.4 Q342.8 136.6 344.4 136.6 L346.4 136.6 Q348 136.6 348 138.4 L348 145.5" fill="#fff" stroke="#000" stroke-width="1.2"/>
<rect x="343.9" y="133.8" width="3" height="2.8" fill="#fff" stroke="#000" stroke-width="1"/>
<line x1="343.9" y1="139.6" x2="346.9" y2="139.6" stroke="#000" stroke-width="0.8"/>
<polygon points="323.7,145.2 321.6,141 321.6,145.2" fill="#222" stroke="#000" stroke-width="0.8" stroke-linejoin="miter"/>
<polygon points="338.7,145.2 342.8,141 342.8,145.2" fill="#222" stroke="#000" stroke-width="0.8" stroke-linejoin="miter"/>
<rect x="334" y="110.5" width="3.2" height="8.5" fill="#fff" stroke="#000" stroke-width="0.9" rx="0.8"/>
<rect x="332.6" y="119" width="6" height="5.5" fill="#fff" stroke="#000" stroke-width="0.9"/>
<line x1="335.5" y1="119" x2="335.5" y2="124.5" stroke="#000" stroke-width="1"/>
<line x1="332.6" y1="121.7" x2="338.6" y2="121.7" stroke="#000" stroke-width="0.6"/>
<rect x="332.4" y="125.5" width="6.4" height="4" fill="#fff" stroke="#000" stroke-width="0.9"/>
<line x1="335.5" y1="125.5" x2="335.5" y2="129.5" stroke="#000" stroke-width="1"/>
<rect x="331.1" y="130.5" width="9" height="2.9" fill="#fff" stroke="#000" stroke-width="0.9"/>
<rect x="331.1" y="133.4" width="9" height="2" fill="#555" stroke="#000" stroke-width="0.5"/>
<polygon points="327.6,137.4 343.6,137.4 344.6,136 326.6,136" fill="#111" stroke="#000" stroke-width="0.8" stroke-linejoin="miter"/>
<polygon points="330.6,138 340.6,138 346.2,144.6 325,144.6" fill="#fff" stroke="#000" stroke-width="1.1" stroke-linejoin="round"/>
<line x1="274.3" y1="181.3" x2="444.7" y2="334.5" stroke="#2a2a2a" stroke-width="0.9"/>
<line x1="444.7" y1="334.5" x2="460.8" y2="334.5" stroke="#6e6e6e" stroke-width="1"/>
<text x="448" y="329" font-family="'Liberation Sans', sans-serif" font-size="8.9" fill="#06120f" textLength="36.6" lengthAdjust="spacingAndGlyphs" stroke="#06120f" stroke-width="0.42">Nameplate</text>
<line x1="277.9" y1="317.4" x2="357.6" y2="383.5" stroke="#2a2a2a" stroke-width="0.9"/>
<line x1="357.6" y1="383.5" x2="388.5" y2="383.5" stroke="#6e6e6e" stroke-width="1"/>
<text x="360.7" y="380.4" font-family="'Liberation Sans', sans-serif" font-size="8.9" fill="#06120f" textLength="27.8" lengthAdjust="spacingAndGlyphs" stroke="#06120f" stroke-width="0.42">Earthing</text>
<line x1="388" y1="311.8" x2="444.7" y2="376.5" stroke="#2a2a2a" stroke-width="0.9"/>
<line x1="444.7" y1="376.5" x2="476" y2="376.5" stroke="#6e6e6e" stroke-width="1"/>
<text x="446.8" y="370.9" font-family="'Liberation Sans', sans-serif" font-size="8.9" fill="#06120f" textLength="47" lengthAdjust="spacingAndGlyphs" stroke="#06120f" stroke-width="0.42">Oil drain valve</text>
<line x1="100.2" y1="66.5" x2="138.5" y2="66.5" stroke="#6e6e6e" stroke-width="1"/>
<line x1="138.5" y1="66.5" x2="181.2" y2="79.5" stroke="#2a2a2a" stroke-width="0.9"/>
<text x="91.2" y="62.8" font-family="'Liberation Sans', sans-serif" font-size="8.9" fill="#06120f" textLength="67.2" lengthAdjust="spacingAndGlyphs" stroke="#06120f" stroke-width="0.42">pressure relief valve</text>
<line x1="117.5" y1="96.5" x2="140" y2="96.5" stroke="#6e6e6e" stroke-width="1"/>
<line x1="140" y1="96.5" x2="180.2" y2="114.3" stroke="#2a2a2a" stroke-width="0.9"/>
<text x="91.2" y="90.8" font-family="'Liberation Sans', sans-serif" font-size="8.9" fill="#06120f" textLength="56.8" lengthAdjust="spacingAndGlyphs" stroke="#06120f" stroke-width="0.42">Oil level indicator</text>
<rect x="542.6" y="163" width="68.9" height="138" fill="#fff" stroke="none" stroke-width="0"/>
<line x1="542.6" y1="164.2" x2="611.5" y2="164.2" stroke="#000" stroke-width="2.3"/>
<line x1="542.6" y1="167.5" x2="611.5" y2="167.5" stroke="#222" stroke-width="1"/>
<line x1="542.6" y1="297.5" x2="611.5" y2="297.5" stroke="#222" stroke-width="1"/>
<line x1="542.6" y1="300.4" x2="611.5" y2="300.4" stroke="#000" stroke-width="2.4"/>
<line x1="543.4" y1="163" x2="543.4" y2="301.6" stroke="#000" stroke-width="1.8"/>
<rect x="725.6" y="163" width="69" height="138" fill="#fff" stroke="none" stroke-width="0"/>
<line x1="725.6" y1="164.2" x2="794.6" y2="164.2" stroke="#000" stroke-width="2.3"/>
<line x1="725.6" y1="167.5" x2="794.6" y2="167.5" stroke="#222" stroke-width="1"/>
<line x1="725.6" y1="297.5" x2="794.6" y2="297.5" stroke="#222" stroke-width="1"/>
<line x1="725.6" y1="300.4" x2="794.6" y2="300.4" stroke="#000" stroke-width="2.4"/>
<line x1="793.8" y1="163" x2="793.8" y2="301.6" stroke="#000" stroke-width="1.8"/>
<rect x="572.6" y="180" width="10" height="104" fill="#fff" stroke="#000" stroke-width="1.5" rx="5"/>
<rect x="753.8" y="180" width="10.2" height="104" fill="#fff" stroke="#000" stroke-width="1.5" rx="5.1"/>
<line x1="613" y1="152" x2="613" y2="324" stroke="#000" stroke-width="3"/>
<line x1="613" y1="170" x2="613" y2="322" stroke="#ddd" stroke-width="0.6" stroke-dasharray="3 3"/>
<line x1="724.2" y1="152" x2="724.2" y2="324" stroke="#000" stroke-width="3"/>
<line x1="724.2" y1="170" x2="724.2" y2="322" stroke="#ddd" stroke-width="0.6" stroke-dasharray="3 3"/>
<rect x="620" y="163.4" width="96" height="137.2" fill="#fff" stroke="#000" stroke-width="1"/>
<line x1="620" y1="164" x2="716" y2="164" stroke="#000" stroke-width="1.6"/>
<line x1="620" y1="300.2" x2="716" y2="300.2" stroke="#000" stroke-width="1.6"/>
<line x1="624.2" y1="165" x2="624.2" y2="300" stroke="#444" stroke-width="0.7"/>
<line x1="711.8" y1="165" x2="711.8" y2="300" stroke="#444" stroke-width="0.7"/>
<line x1="626.5" y1="166" x2="626.5" y2="298.5" stroke="#000" stroke-width="3"/>
<line x1="626.5" y1="170" x2="626.5" y2="296" stroke="#bbb" stroke-width="0.55" stroke-dasharray="3.5 3"/>
<line x1="636.9" y1="166" x2="636.9" y2="298.5" stroke="#000" stroke-width="3"/>
<line x1="636.9" y1="170" x2="636.9" y2="296" stroke="#bbb" stroke-width="0.55" stroke-dasharray="3.5 3"/>
<line x1="647.3" y1="166" x2="647.3" y2="298.5" stroke="#000" stroke-width="3"/>
<line x1="647.3" y1="170" x2="647.3" y2="296" stroke="#bbb" stroke-width="0.55" stroke-dasharray="3.5 3"/>
<line x1="657.7" y1="166" x2="657.7" y2="298.5" stroke="#000" stroke-width="3"/>
<line x1="657.7" y1="170" x2="657.7" y2="296" stroke="#bbb" stroke-width="0.55" stroke-dasharray="3.5 3"/>
<line x1="668.1" y1="166" x2="668.1" y2="298.5" stroke="#000" stroke-width="3"/>
<line x1="668.1" y1="170" x2="668.1" y2="296" stroke="#bbb" stroke-width="0.55" stroke-dasharray="3.5 3"/>
<line x1="678.5" y1="166" x2="678.5" y2="298.5" stroke="#000" stroke-width="3"/>
<line x1="678.5" y1="170" x2="678.5" y2="296" stroke="#bbb" stroke-width="0.55" stroke-dasharray="3.5 3"/>
<line x1="688.9" y1="166" x2="688.9" y2="298.5" stroke="#000" stroke-width="3"/>
<line x1="688.9" y1="170" x2="688.9" y2="296" stroke="#bbb" stroke-width="0.55" stroke-dasharray="3.5 3"/>
<line x1="699.3" y1="166" x2="699.3" y2="298.5" stroke="#000" stroke-width="3"/>
<line x1="699.3" y1="170" x2="699.3" y2="296" stroke="#bbb" stroke-width="0.55" stroke-dasharray="3.5 3"/>
<line x1="709.7" y1="166" x2="709.7" y2="298.5" stroke="#000" stroke-width="3"/>
<line x1="709.7" y1="170" x2="709.7" y2="296" stroke="#bbb" stroke-width="0.55" stroke-dasharray="3.5 3"/>
<line x1="621" y1="168.6" x2="715" y2="168.6" stroke="#777" stroke-width="0.6" stroke-dasharray="4 2"/>
<line x1="621" y1="296.6" x2="715" y2="296.6" stroke="#777" stroke-width="0.6" stroke-dasharray="4 2"/>
<line x1="624.5" y1="300.6" x2="624.5" y2="323" stroke="#000" stroke-width="1"/>
<line x1="712.5" y1="300.6" x2="712.5" y2="323" stroke="#000" stroke-width="1"/>
<line x1="611.5" y1="323.4" x2="725.8" y2="323.4" stroke="#000" stroke-width="2"/>
<path d="M620.7 323 L620.7 317.4 Q622.4 315 624.1 317.4 L624.1 323" fill="#fff" stroke="#000" stroke-width="0.9"/>
<path d="M712.6 323 L712.6 317.4 Q714.3 315 716 317.4 L716 323" fill="#fff" stroke="#000" stroke-width="0.9"/>
<circle cx="668.3" cy="311.4" r="4.6" fill="#fff" stroke="#333" stroke-width="0.8"/>
<path d="M669.5 311.4 Q671.83 312.12 671.13 314.77" fill="none" stroke="#222" stroke-width="0.9"/>
<path d="M668.9 312.44 Q669.44 314.81 666.8 315.53" fill="none" stroke="#222" stroke-width="0.9"/>
<path d="M667.7 312.44 Q665.92 314.1 663.97 312.16" fill="none" stroke="#222" stroke-width="0.9"/>
<path d="M667.1 311.4 Q664.77 310.68 665.47 308.03" fill="none" stroke="#222" stroke-width="0.9"/>
<path d="M667.7 310.36 Q667.16 307.99 669.8 307.27" fill="none" stroke="#222" stroke-width="0.9"/>
<path d="M668.9 310.36 Q670.68 308.7 672.63 310.64" fill="none" stroke="#222" stroke-width="0.9"/>
<rect x="725.8" y="315.4" width="3.8" height="3.8" fill="#fff" stroke="#000" stroke-width="1" rx="0.8"/>
<rect x="576.2" y="324.6" width="184.4" height="18" fill="#fff" stroke="none" stroke-width="0"/>
<line x1="575.6" y1="325.6" x2="761.2" y2="325.6" stroke="#000" stroke-width="2.4"/>
<line x1="576.2" y1="328.5" x2="760.6" y2="328.5" stroke="#222" stroke-width="1"/>
<line x1="576.2" y1="338.5" x2="760.6" y2="338.5" stroke="#222" stroke-width="1"/>
<line x1="575.6" y1="341.6" x2="761.2" y2="341.6" stroke="#000" stroke-width="2.6"/>
<line x1="576.4" y1="324.6" x2="576.4" y2="342.8" stroke="#000" stroke-width="1.4"/>
<line x1="760.4" y1="324.6" x2="760.4" y2="342.8" stroke="#000" stroke-width="1.4"/>
<line x1="632.7" y1="329.5" x2="632.7" y2="338" stroke="#888" stroke-width="0.6" stroke-dasharray="2 1.2"/>
<line x1="634.1" y1="329.5" x2="634.1" y2="338" stroke="#888" stroke-width="0.6" stroke-dasharray="2 1.2"/>
<line x1="702.7" y1="329.5" x2="702.7" y2="338" stroke="#888" stroke-width="0.6" stroke-dasharray="2 1.2"/>
<line x1="704.1" y1="329.5" x2="704.1" y2="338" stroke="#888" stroke-width="0.6" stroke-dasharray="2 1.2"/>
<line x1="621.5" y1="155" x2="621.5" y2="163" stroke="#333" stroke-width="1"/>
<line x1="716.5" y1="155" x2="716.5" y2="163" stroke="#333" stroke-width="1"/>
<line x1="626.5" y1="154" x2="626.5" y2="161" stroke="#222" stroke-width="1"/>
<line x1="629.5" y1="154" x2="629.5" y2="161" stroke="#222" stroke-width="1"/>
<line x1="626" y1="161.5" x2="640" y2="161.5" stroke="#222" stroke-width="1"/>
<line x1="634.5" y1="156" x2="634.5" y2="162" stroke="#222" stroke-width="1"/>
<line x1="637.5" y1="156" x2="637.5" y2="162" stroke="#222" stroke-width="1"/>
<line x1="640.5" y1="156" x2="640.5" y2="162" stroke="#222" stroke-width="1"/>
<line x1="644.5" y1="156" x2="644.5" y2="162" stroke="#222" stroke-width="1"/>
<line x1="648" y1="162" x2="658" y2="154" stroke="#111" stroke-width="1.4"/>
<line x1="646" y1="160.5" x2="654" y2="160.5" stroke="#444" stroke-width="1"/>
<rect x="643.5" y="164" width="22.5" height="4.2" fill="#444" stroke="#222" stroke-width="0.5"/>
<line x1="647" y1="164.2" x2="647" y2="168" stroke="#ddd" stroke-width="0.6"/>
<line x1="651" y1="164.2" x2="651" y2="168" stroke="#ddd" stroke-width="0.6"/>
<line x1="655" y1="164.2" x2="655" y2="168" stroke="#ddd" stroke-width="0.6"/>
<line x1="659" y1="164.2" x2="659" y2="168" stroke="#ddd" stroke-width="0.6"/>
<line x1="663" y1="164.2" x2="663" y2="168" stroke="#ddd" stroke-width="0.6"/>
<line x1="678.7" y1="153" x2="678.7" y2="164" stroke="#555" stroke-width="0.6" stroke-dasharray="3 1.5"/>
<line x1="668" y1="153" x2="668" y2="164" stroke="#777" stroke-width="0.6" stroke-dasharray="3 1.5"/>
<rect x="699" y="153.5" width="13" height="5" fill="#333" stroke="#222" stroke-width="0.5"/>
<rect x="701.5" y="158.5" width="8.5" height="5" fill="#1a1a1a" stroke="#111" stroke-width="0.5"/>
<rect x="702.5" y="163.5" width="6.5" height="10.5" fill="#3a3a3a" stroke="#111" stroke-width="0.5"/>
<line x1="704.2" y1="159" x2="704.2" y2="173.5" stroke="#ddd" stroke-width="0.5"/>
<line x1="705.9" y1="159" x2="705.9" y2="173.5" stroke="#ddd" stroke-width="0.5"/>
<line x1="707.6" y1="159" x2="707.6" y2="173.5" stroke="#ddd" stroke-width="0.5"/>
<line x1="694" y1="155" x2="697" y2="160" stroke="#444" stroke-width="0.7"/>
<line x1="713.5" y1="155" x2="715" y2="160" stroke="#444" stroke-width="0.7"/>
<rect x="595" y="146.4" width="146.6" height="6.2" fill="#fff" stroke="none" stroke-width="0"/>
<line x1="597" y1="147.4" x2="740" y2="147.4" stroke="#000" stroke-width="2.2"/>
<line x1="597" y1="151.6" x2="740" y2="151.6" stroke="#000" stroke-width="2.2"/>
<line x1="597" y1="149.5" x2="740" y2="149.5" stroke="#000" stroke-width="1" stroke-dasharray="5 1.2"/>
<rect x="594.4" y="146.6" width="5" height="5.8" fill="#222" stroke="#000" stroke-width="1" rx="2"/>
<rect x="601" y="143.2" width="6" height="3.4" fill="#fff" stroke="#000" stroke-width="1.1" rx="0.8"/>
<rect x="601.2" y="152.6" width="5.6" height="4.2" fill="#222" stroke="#000" stroke-width="1.1" rx="1.6"/>
<path d="M605 156 L605 159.5 Q605 161 606.4 161 L597.8 161 L597.8 168.5" fill="none" stroke="#000" stroke-width="1.3"/>
<path d="M607.4 156.5 L607.4 158 L599 158 Q600.2 158 600.2 159.6 L600.2 168.5" fill="none" stroke="#000" stroke-width="1.3"/>
<circle cx="599" cy="168.8" r="1.5" fill="#fff" stroke="#000" stroke-width="0.9"/>
<rect x="737.2" y="146.6" width="5" height="5.8" fill="#222" stroke="#000" stroke-width="1" rx="2"/>
<rect x="729.6" y="143.2" width="6" height="3.4" fill="#fff" stroke="#000" stroke-width="1.1" rx="0.8"/>
<rect x="729.8" y="152.6" width="5.6" height="4.2" fill="#222" stroke="#000" stroke-width="1.1" rx="1.6"/>
<path d="M731.6 156 L731.6 159.5 Q731.6 161 730.2 161 L739.2 161 L739.2 168.5" fill="none" stroke="#000" stroke-width="1.3"/>
<path d="M729.2 156.5 L729.2 158 L738 158 Q736.8 158 736.8 159.6 L736.8 168.5" fill="none" stroke="#000" stroke-width="1.3"/>
<circle cx="738" cy="168.8" r="1.5" fill="#fff" stroke="#000" stroke-width="0.9"/>
<rect x="631" y="152.6" width="4" height="3.4" fill="#222" stroke="#000" stroke-width="1" rx="1.4"/>
<rect x="661.6" y="152.6" width="4" height="3.4" fill="#222" stroke="#000" stroke-width="1" rx="1.4"/>
<rect x="677" y="152.6" width="4" height="3.4" fill="#222" stroke="#000" stroke-width="1" rx="1.4"/>
<rect x="695" y="152.6" width="4" height="3.4" fill="#222" stroke="#000" stroke-width="1" rx="1.4"/>
<rect x="714" y="152.6" width="4" height="3.4" fill="#222" stroke="#000" stroke-width="1" rx="1.4"/>
<rect x="647.6" y="144" width="4.8" height="2.4" fill="#333" stroke="#000" stroke-width="0.9"/>
<rect x="687.6" y="144" width="4.8" height="2.4" fill="#333" stroke="#000" stroke-width="0.9"/>
<circle cx="626.8" cy="88.4" r="14.5" fill="none" stroke="#333" stroke-width="0.9"/>
<rect x="625.1" y="88.4" width="3.4" height="7.6" fill="#fff" stroke="#000" stroke-width="1.1" rx="1.2"/>
<rect x="624.2" y="95.4" width="5.2" height="9.2" fill="#111" stroke="#000" stroke-width="0.8"/>
<line x1="626.2" y1="97.5" x2="626.2" y2="103.5" stroke="#888" stroke-width="0.5"/>
<rect x="618" y="104.4" width="17.6" height="3.2" fill="#111" stroke="#000" stroke-width="0.6" rx="1.4"/>
<rect x="619.8" y="108" width="14" height="31.5" fill="#fff" stroke="#000" stroke-width="1"/>
<polygon points="619.8,109.3 633.8,109.3 640.4,112 640.4,113.2 633.8,114 619.8,114 613.2,113.2 613.2,112" fill="#fff" stroke="#000" stroke-width="1" stroke-linejoin="round"/>
<line x1="614" y1="112.8" x2="639.6" y2="112.8" stroke="#000" stroke-width="1.7"/>
<polygon points="619.8,118.2 633.8,118.2 640.4,120.9 640.4,122.1 633.8,122.9 619.8,122.9 613.2,122.1 613.2,120.9" fill="#fff" stroke="#000" stroke-width="1" stroke-linejoin="round"/>
<line x1="614" y1="121.7" x2="639.6" y2="121.7" stroke="#000" stroke-width="1.7"/>
<polygon points="619.8,127 633.8,127 640.4,129.7 640.4,130.9 633.8,131.7 619.8,131.7 613.2,130.9 613.2,129.7" fill="#fff" stroke="#000" stroke-width="1" stroke-linejoin="round"/>
<line x1="614" y1="130.5" x2="639.6" y2="130.5" stroke="#000" stroke-width="1.7"/>
<rect x="622.2" y="134" width="11.2" height="7" fill="#fff" stroke="#000" stroke-width="1"/>
<line x1="627.8" y1="135" x2="627.8" y2="139" stroke="#555" stroke-width="0.6"/>
<rect x="623.3" y="141.4" width="12.5" height="4.4" fill="#fff" stroke="#000" stroke-width="1.1"/>
<rect x="627.3" y="142.8" width="6.5" height="1.8" fill="#fff" stroke="#000" stroke-width="0.7"/>
<rect x="610.4" y="135.6" width="6" height="10.4" fill="#222" stroke="#000" stroke-width="1.2" rx="1"/>
<rect x="611.8" y="137.2" width="3.4" height="3.8" fill="#fff" stroke="#000" stroke-width="0.7"/>
<rect x="612.2" y="133.6" width="2.7" height="2.2" fill="#fff" stroke="#000" stroke-width="0.9"/>
<rect x="637.2" y="135.6" width="6" height="10.4" fill="#222" stroke="#000" stroke-width="1.2" rx="1"/>
<rect x="638.4" y="137.2" width="3.4" height="3.8" fill="#fff" stroke="#000" stroke-width="0.7"/>
<rect x="638.7" y="133.6" width="2.7" height="2.2" fill="#fff" stroke="#000" stroke-width="0.9"/>
<text x="626.8" y="70.2" font-family="'Liberation Sans', sans-serif" font-size="7.6" fill="#888" text-anchor="middle" textLength="3.6" lengthAdjust="spacingAndGlyphs" stroke="#888" stroke-width="0.42">V</text>
<rect x="668" y="83.5" width="10.3" height="57.1" fill="#e4e4e4" stroke="#000" stroke-width="1.3"/>
<line x1="670.2" y1="108" x2="670.2" y2="139" stroke="#555" stroke-width="0.7" stroke-dasharray="2.4 1.6"/>
<line x1="673.2" y1="110" x2="673.2" y2="139" stroke="#777" stroke-width="0.7" stroke-dasharray="3 2"/>
<line x1="676.2" y1="108" x2="676.2" y2="139" stroke="#555" stroke-width="0.7" stroke-dasharray="2.4 1.6"/>
<rect x="669.4" y="86" width="7.5" height="12" fill="#fff" stroke="#888" stroke-width="0.5"/>
<rect x="666.8" y="76.1" width="12.7" height="7.5" fill="#fff" stroke="#000" stroke-width="1.4" rx="1"/>
<rect x="669.2" y="77.6" width="7.8" height="5" fill="#fff" stroke="#666" stroke-width="0.6"/>
<rect x="670.4" y="99.8" width="5.3" height="5.8" fill="#fff" stroke="#000" stroke-width="1.1"/>
<path d="M670.6 106.5 L670.6 110 Q673 112.5 675.5 110 L675.5 106.5" fill="#fff" stroke="#444" stroke-width="0.7"/>
<rect x="665.6" y="140.4" width="15" height="5.6" fill="#222" stroke="#000" stroke-width="1"/>
<rect x="668" y="141.6" width="4" height="2.4" fill="#888" stroke="#000" stroke-width="0.5"/>
<rect x="674" y="141.6" width="4" height="2.4" fill="#888" stroke="#000" stroke-width="0.5"/>
<rect x="652.2" y="130.9" width="14.6" height="12.7" fill="#fff" stroke="#000" stroke-width="1.2"/>
<line x1="651.5" y1="144.6" x2="667" y2="144.6" stroke="#000" stroke-width="1.4"/>
<path d="M699.3 83.6 L715.7 83.6 Q716.9 83.6 716.9 84.8 L716.9 101.4 Q716.9 102.6 715.7 102.6 L710.8 102.6 L710.8 105.6 L704.4 105.6 L704.4 102.6 L699.3 102.6 Q698.1 102.6 698.1 101.4 L698.1 84.8 Q698.1 83.6 699.3 83.6 Z" fill="#fff" stroke="#000" stroke-width="1.3"/>
<circle cx="702.5" cy="87.9" r="1.7" fill="#fff" stroke="#000" stroke-width="1"/>
<circle cx="702.5" cy="98" r="1.7" fill="#fff" stroke="#000" stroke-width="1"/>
<circle cx="712.8" cy="87.9" r="1.7" fill="#fff" stroke="#000" stroke-width="1"/>
<circle cx="712.8" cy="98" r="1.7" fill="#fff" stroke="#000" stroke-width="1"/>
<rect x="701.5" y="105.6" width="11.8" height="12.2" fill="#999" stroke="#000" stroke-width="1.2"/>
<line x1="704.2" y1="106.5" x2="704.2" y2="117" stroke="#222" stroke-width="0.7"/>
<line x1="706.6" y1="106.5" x2="706.6" y2="117" stroke="#222" stroke-width="0.7"/>
<line x1="708.6" y1="106.5" x2="708.6" y2="117" stroke="#222" stroke-width="0.7"/>
<line x1="710.8" y1="106.5" x2="710.8" y2="117" stroke="#222" stroke-width="0.7"/>
<line x1="705.5" y1="106.5" x2="705.5" y2="117" stroke="#eee" stroke-width="1"/>
<line x1="709.5" y1="106.5" x2="709.5" y2="117" stroke="#eee" stroke-width="1"/>
<rect x="700.6" y="119" width="13.8" height="7" fill="#fff" stroke="#000" stroke-width="1.2"/>
<rect x="704.5" y="120.2" width="6" height="3.6" fill="#bbb" stroke="#222" stroke-width="0.7"/>
<line x1="702.5" y1="119" x2="702.5" y2="126" stroke="#000" stroke-width="1"/>
<line x1="712.5" y1="119" x2="712.5" y2="126" stroke="#000" stroke-width="1"/>
<rect x="701.2" y="126" width="12.6" height="6.6" fill="#222" stroke="#000" stroke-width="1"/>
<rect x="702.3" y="127.2" width="2.6" height="2" fill="#fff" stroke="none" stroke-width="0"/>
<rect x="706" y="127.2" width="2.6" height="2" fill="#fff" stroke="none" stroke-width="0"/>
<rect x="709.7" y="127.2" width="2.6" height="2" fill="#fff" stroke="none" stroke-width="0"/>
<line x1="702" y1="130.8" x2="713" y2="130.8" stroke="#ccc" stroke-width="0.6" stroke-dasharray="1.5 1"/>
<polygon points="701,132.6 714,132.6 718.4,136.5 716,138 718.4,146 697.2,146 697.2,135.5" fill="#161616" stroke="#000" stroke-width="1" stroke-linejoin="round"/>
<rect x="700.6" y="138.4" width="3.6" height="5" fill="#aaa" stroke="#000" stroke-width="0.4"/>
<rect x="707" y="139" width="5.6" height="4" fill="#777" stroke="#000" stroke-width="0.4"/>
<line x1="705.5" y1="134" x2="705.5" y2="145" stroke="#888" stroke-width="0.6"/>
<rect x="698.6" y="134" width="2.8" height="2" fill="#ddd" stroke="#000" stroke-width="0.3"/>
<line x1="49" y1="426.5" x2="184" y2="426.5" stroke="#4c4c4c" stroke-width="1"/>
<line x1="56" y1="466.5" x2="200" y2="466.5" stroke="#4c4c4c" stroke-width="1"/>
<line x1="56" y1="637.5" x2="205" y2="637.5" stroke="#4c4c4c" stroke-width="1"/>
<line x1="49" y1="677.5" x2="184" y2="677.5" stroke="#4c4c4c" stroke-width="1"/>
<line x1="51.5" y1="427" x2="51.5" y2="677" stroke="#4c4c4c" stroke-width="1"/>
<line x1="58.5" y1="467" x2="58.5" y2="636.5" stroke="#4c4c4c" stroke-width="1"/>
<polygon points="51.5,426.8 53.2,434.8 49.8,434.8" fill="#111" stroke="none" stroke-width="0" stroke-linejoin="miter"/>
<polygon points="51.5,677.4 49.8,669.4 53.2,669.4" fill="#111" stroke="none" stroke-width="0" stroke-linejoin="miter"/>
<polygon points="58.5,466.8 60.2,474.8 56.8,474.8" fill="#111" stroke="none" stroke-width="0" stroke-linejoin="miter"/>
<polygon points="58.5,637.2 56.8,629.2 60.2,629.2" fill="#111" stroke="none" stroke-width="0" stroke-linejoin="miter"/>
<line x1="95.5" y1="420" x2="95.5" y2="510" stroke="#4c4c4c" stroke-width="1"/>
<line x1="95.5" y1="396" x2="95.5" y2="401" stroke="#666" stroke-width="1"/>
<path d="M50.6 535.2 Q54.6 535 54.6 537.4 Q54.6 538.8 52.2 538.6" fill="none" stroke="#444" stroke-width="0.8"/>
<line x1="52.4" y1="541.4" x2="54.2" y2="541.4" stroke="#777" stroke-width="0.7"/>
<circle cx="51.6" cy="543.2" r="0.7" fill="#222" stroke="none" stroke-width="0"/>
<line x1="50.8" y1="547" x2="54.6" y2="547" stroke="#555" stroke-width="0.8"/>
<circle cx="39.2" cy="547.2" r="0.5" fill="#bbb" stroke="none" stroke-width="0"/>
<rect x="183.8" y="426.4" width="178.6" height="51.9" fill="#fff" stroke="none" stroke-width="0"/>
<rect x="183.8" y="625.5" width="178.6" height="52.1" fill="#fff" stroke="none" stroke-width="0"/>
<line x1="185.3" y1="426.4" x2="185.3" y2="478.3" stroke="#000" stroke-width="2.7"/>
<line x1="185.3" y1="625.5" x2="185.3" y2="677.6" stroke="#000" stroke-width="2.7"/>
<line x1="195.68" y1="426.4" x2="195.68" y2="478.3" stroke="#000" stroke-width="2.7"/>
<line x1="195.68" y1="625.5" x2="195.68" y2="677.6" stroke="#000" stroke-width="2.7"/>
<line x1="206.06" y1="426.4" x2="206.06" y2="478.3" stroke="#000" stroke-width="2.7"/>
<line x1="206.06" y1="625.5" x2="206.06" y2="677.6" stroke="#000" stroke-width="2.7"/>
<line x1="216.44" y1="426.4" x2="216.44" y2="478.3" stroke="#000" stroke-width="2.7"/>
<line x1="216.44" y1="625.5" x2="216.44" y2="677.6" stroke="#000" stroke-width="2.7"/>
<line x1="226.82" y1="426.4" x2="226.82" y2="478.3" stroke="#000" stroke-width="2.7"/>
<line x1="226.82" y1="625.5" x2="226.82" y2="677.6" stroke="#000" stroke-width="2.7"/>
<line x1="237.2" y1="426.4" x2="237.2" y2="478.3" stroke="#000" stroke-width="2.7"/>
<line x1="237.2" y1="625.5" x2="237.2" y2="677.6" stroke="#000" stroke-width="2.7"/>
<line x1="247.58" y1="426.4" x2="247.58" y2="478.3" stroke="#000" stroke-width="2.7"/>
<line x1="247.58" y1="625.5" x2="247.58" y2="677.6" stroke="#000" stroke-width="2.7"/>
<line x1="257.96" y1="426.4" x2="257.96" y2="478.3" stroke="#000" stroke-width="2.7"/>
<line x1="257.96" y1="625.5" x2="257.96" y2="677.6" stroke="#000" stroke-width="2.7"/>
<line x1="268.34" y1="426.4" x2="268.34" y2="478.3" stroke="#000" stroke-width="2.7"/>
<line x1="268.34" y1="625.5" x2="268.34" y2="677.6" stroke="#000" stroke-width="2.7"/>
<line x1="278.72" y1="426.4" x2="278.72" y2="478.3" stroke="#000" stroke-width="2.7"/>
<line x1="278.72" y1="625.5" x2="278.72" y2="677.6" stroke="#000" stroke-width="2.7"/>
<line x1="289.1" y1="426.4" x2="289.1" y2="478.3" stroke="#000" stroke-width="2.7"/>
<line x1="289.1" y1="625.5" x2="289.1" y2="677.6" stroke="#000" stroke-width="2.7"/>
<line x1="299.48" y1="426.4" x2="299.48" y2="478.3" stroke="#000" stroke-width="2.7"/>
<line x1="299.48" y1="625.5" x2="299.48" y2="677.6" stroke="#000" stroke-width="2.7"/>
<line x1="309.86" y1="426.4" x2="309.86" y2="478.3" stroke="#000" stroke-width="2.7"/>
<line x1="309.86" y1="625.5" x2="309.86" y2="677.6" stroke="#000" stroke-width="2.7"/>
<line x1="320.24" y1="426.4" x2="320.24" y2="478.3" stroke="#000" stroke-width="2.7"/>
<line x1="320.24" y1="625.5" x2="320.24" y2="677.6" stroke="#000" stroke-width="2.7"/>
<line x1="330.62" y1="426.4" x2="330.62" y2="478.3" stroke="#000" stroke-width="2.7"/>
<line x1="330.62" y1="625.5" x2="330.62" y2="677.6" stroke="#000" stroke-width="2.7"/>
<line x1="341" y1="426.4" x2="341" y2="478.3" stroke="#000" stroke-width="2.7"/>
<line x1="341" y1="625.5" x2="341" y2="677.6" stroke="#000" stroke-width="2.7"/>
<line x1="351.38" y1="426.4" x2="351.38" y2="478.3" stroke="#000" stroke-width="2.7"/>
<line x1="351.38" y1="625.5" x2="351.38" y2="677.6" stroke="#000" stroke-width="2.7"/>
<line x1="361.76" y1="426.4" x2="361.76" y2="478.3" stroke="#000" stroke-width="2.7"/>
<line x1="361.76" y1="625.5" x2="361.76" y2="677.6" stroke="#000" stroke-width="2.7"/>
<line x1="183.9" y1="426.9" x2="363.2" y2="426.9" stroke="#000" stroke-width="2.3"/>
<line x1="183.9" y1="676.6" x2="363.2" y2="676.6" stroke="#000" stroke-width="2.3"/>
<rect x="95.7" y="510" width="52.6" height="83.6" fill="#fff" stroke="none" stroke-width="0"/>
<rect x="399" y="510" width="52" height="83.6" fill="#fff" stroke="none" stroke-width="0"/>
<line x1="95.7" y1="510.4" x2="148.3" y2="510.4" stroke="#000" stroke-width="2.6"/>
<line x1="399" y1="510.4" x2="451" y2="510.4" stroke="#000" stroke-width="2.6"/>
<line x1="95.7" y1="520.8" x2="148.3" y2="520.8" stroke="#000" stroke-width="2.6"/>
<line x1="399" y1="520.8" x2="451" y2="520.8" stroke="#000" stroke-width="2.6"/>
<line x1="95.7" y1="531.2" x2="148.3" y2="531.2" stroke="#000" stroke-width="2.6"/>
<line x1="399" y1="531.2" x2="451" y2="531.2" stroke="#000" stroke-width="2.6"/>
<line x1="95.7" y1="541.6" x2="148.3" y2="541.6" stroke="#000" stroke-width="2.6"/>
<line x1="399" y1="541.6" x2="451" y2="541.6" stroke="#000" stroke-width="2.6"/>
<line x1="95.7" y1="552" x2="148.3" y2="552" stroke="#000" stroke-width="2.6"/>
<line x1="399" y1="552" x2="451" y2="552" stroke="#000" stroke-width="2.6"/>
<line x1="95.7" y1="562.4" x2="148.3" y2="562.4" stroke="#000" stroke-width="2.6"/>
<line x1="399" y1="562.4" x2="451" y2="562.4" stroke="#000" stroke-width="2.6"/>
<line x1="95.7" y1="572.8" x2="148.3" y2="572.8" stroke="#000" stroke-width="2.6"/>
<line x1="399" y1="572.8" x2="451" y2="572.8" stroke="#000" stroke-width="2.6"/>
<line x1="95.7" y1="583.2" x2="148.3" y2="583.2" stroke="#000" stroke-width="2.6"/>
<line x1="399" y1="583.2" x2="451" y2="583.2" stroke="#000" stroke-width="2.6"/>
<line x1="95.7" y1="593.6" x2="148.3" y2="593.6" stroke="#000" stroke-width="2.6"/>
<line x1="399" y1="593.6" x2="451" y2="593.6" stroke="#000" stroke-width="2.6"/>
<line x1="96.5" y1="509.1" x2="96.5" y2="594.9" stroke="#000" stroke-width="2.4"/>
<line x1="450.2" y1="509.1" x2="450.2" y2="594.9" stroke="#000" stroke-width="2.4"/>
<line x1="451.5" y1="504.5" x2="451.5" y2="510" stroke="#555" stroke-width="1"/>
<line x1="349.5" y1="678" x2="349.5" y2="683.4" stroke="#777" stroke-width="1"/>
<rect x="192.6" y="459.6" width="10.4" height="18.7" fill="#fff" stroke="#000" stroke-width="1.1"/>
<line x1="201.6" y1="460.4" x2="201.6" y2="478" stroke="#666" stroke-width="2"/>
<rect x="192.6" y="625.5" width="10.4" height="18.7" fill="#fff" stroke="#000" stroke-width="1.1"/>
<line x1="201.6" y1="626" x2="201.6" y2="643.6" stroke="#666" stroke-width="2"/>
<line x1="195.6" y1="466.6" x2="198.8" y2="466.6" stroke="#555" stroke-width="0.6"/>
<line x1="196.3" y1="637.4" x2="199.4" y2="637.4" stroke="#555" stroke-width="0.6"/>
<rect x="343.3" y="459.6" width="11" height="18.7" fill="#fff" stroke="#000" stroke-width="1.1"/>
<line x1="352.9" y1="460.4" x2="352.9" y2="478" stroke="#666" stroke-width="2"/>
<rect x="343.3" y="625.5" width="11" height="18.7" fill="#fff" stroke="#000" stroke-width="1.1"/>
<line x1="352.9" y1="626" x2="352.9" y2="643.6" stroke="#666" stroke-width="2"/>
<line x1="346.6" y1="466.6" x2="349.8" y2="466.6" stroke="#555" stroke-width="0.6"/>
<line x1="347.3" y1="637.4" x2="350.4" y2="637.4" stroke="#555" stroke-width="0.6"/>
<polygon points="157,478.3 389.9,478.3 399,487.2 399,617 390.4,625.5 156.5,625.5 148.3,617.2 148.3,487" fill="#fff" stroke="#000" stroke-width="1.5" stroke-linejoin="miter"/>
<polygon points="150.2,479.6 156.6,479.6 150.2,486" fill="#fff" stroke="#000" stroke-width="0.9" stroke-linejoin="miter"/>
<polygon points="397,479.6 390.6,479.6 397,486" fill="#fff" stroke="#000" stroke-width="0.9" stroke-linejoin="miter"/>
<polygon points="150.2,624 156.4,624 150.2,617.8" fill="#fff" stroke="#000" stroke-width="0.9" stroke-linejoin="miter"/>
<polygon points="397,624 390.8,624 397,617.8" fill="#fff" stroke="#000" stroke-width="0.9" stroke-linejoin="miter"/>
<circle cx="156.9" cy="487.3" r="2.3" fill="#fff" stroke="#000" stroke-width="1.5"/>
<circle cx="156.9" cy="617" r="2.3" fill="#fff" stroke="#000" stroke-width="1.5"/>
<circle cx="178.07" cy="487.3" r="2.3" fill="#fff" stroke="#000" stroke-width="1.5"/>
<circle cx="178.07" cy="617" r="2.3" fill="#fff" stroke="#000" stroke-width="1.5"/>
<circle cx="199.24" cy="487.3" r="2.3" fill="#fff" stroke="#000" stroke-width="1.5"/>
<circle cx="199.24" cy="617" r="2.3" fill="#fff" stroke="#000" stroke-width="1.5"/>
<circle cx="220.41" cy="487.3" r="2.3" fill="#fff" stroke="#000" stroke-width="1.5"/>
<circle cx="220.41" cy="617" r="2.3" fill="#fff" stroke="#000" stroke-width="1.5"/>
<circle cx="241.58" cy="487.3" r="2.3" fill="#fff" stroke="#000" stroke-width="1.5"/>
<circle cx="241.58" cy="617" r="2.3" fill="#fff" stroke="#000" stroke-width="1.5"/>
<circle cx="262.75" cy="487.3" r="2.3" fill="#fff" stroke="#000" stroke-width="1.5"/>
<circle cx="262.75" cy="617" r="2.3" fill="#fff" stroke="#000" stroke-width="1.5"/>
<circle cx="283.92" cy="487.3" r="2.3" fill="#fff" stroke="#000" stroke-width="1.5"/>
<circle cx="283.92" cy="617" r="2.3" fill="#fff" stroke="#000" stroke-width="1.5"/>
<circle cx="305.09" cy="487.3" r="2.3" fill="#fff" stroke="#000" stroke-width="1.5"/>
<circle cx="305.09" cy="617" r="2.3" fill="#fff" stroke="#000" stroke-width="1.5"/>
<circle cx="326.26" cy="487.3" r="2.3" fill="#fff" stroke="#000" stroke-width="1.5"/>
<circle cx="326.26" cy="617" r="2.3" fill="#fff" stroke="#000" stroke-width="1.5"/>
<circle cx="347.43" cy="487.3" r="2.3" fill="#fff" stroke="#000" stroke-width="1.5"/>
<circle cx="347.43" cy="617" r="2.3" fill="#fff" stroke="#000" stroke-width="1.5"/>
<circle cx="368.6" cy="487.3" r="2.3" fill="#fff" stroke="#000" stroke-width="1.5"/>
<circle cx="368.6" cy="617" r="2.3" fill="#fff" stroke="#000" stroke-width="1.5"/>
<circle cx="389.77" cy="487.3" r="2.3" fill="#fff" stroke="#000" stroke-width="1.5"/>
<circle cx="389.77" cy="617" r="2.3" fill="#fff" stroke="#000" stroke-width="1.5"/>
<circle cx="156.9" cy="509" r="2.3" fill="#fff" stroke="#000" stroke-width="1.5"/>
<circle cx="389.8" cy="509" r="2.3" fill="#fff" stroke="#000" stroke-width="1.5"/>
<circle cx="156.9" cy="530.65" r="2.3" fill="#fff" stroke="#000" stroke-width="1.5"/>
<circle cx="389.8" cy="530.65" r="2.3" fill="#fff" stroke="#000" stroke-width="1.5"/>
<circle cx="156.9" cy="552.3" r="2.3" fill="#fff" stroke="#000" stroke-width="1.5"/>
<circle cx="389.8" cy="552.3" r="2.3" fill="#fff" stroke="#000" stroke-width="1.5"/>
<circle cx="156.9" cy="573.95" r="2.3" fill="#fff" stroke="#000" stroke-width="1.5"/>
<circle cx="389.8" cy="573.95" r="2.3" fill="#fff" stroke="#000" stroke-width="1.5"/>
<circle cx="156.9" cy="595.6" r="2.3" fill="#fff" stroke="#000" stroke-width="1.5"/>
<circle cx="389.8" cy="595.6" r="2.3" fill="#fff" stroke="#000" stroke-width="1.5"/>
<line x1="92" y1="552.5" x2="461" y2="552.5" stroke="#555" stroke-width="1" stroke-dasharray="112 4.5 5.5 4.5"/>
<line x1="273.5" y1="428" x2="273.5" y2="681" stroke="#858585" stroke-width="1"/>
<line x1="280.4" y1="389.2" x2="280.4" y2="391.8" stroke="#333" stroke-width="0.9"/>
<line x1="280.4" y1="382" x2="280.4" y2="383.6" stroke="#bbb" stroke-width="0.8"/>
<rect x="180.8" y="520.5" width="12" height="3.3" fill="#888" stroke="#000" stroke-width="1.1" rx="0.6"/>
<rect x="180.8" y="580.4" width="12" height="3.3" fill="#888" stroke="#000" stroke-width="1.1" rx="0.6"/>
<rect x="353.6" y="520.5" width="12.6" height="3.3" fill="#888" stroke="#000" stroke-width="1.1" rx="0.6"/>
<rect x="353.6" y="580.4" width="12.6" height="3.3" fill="#888" stroke="#000" stroke-width="1.1" rx="0.6"/>
<circle cx="202.7" cy="502.2" r="3" fill="#1a1a1a" stroke="#000" stroke-width="1"/>
<circle cx="229.1" cy="502.2" r="3" fill="#1a1a1a" stroke="#000" stroke-width="1"/>
<circle cx="215.9" cy="525.9" r="3" fill="#1a1a1a" stroke="#000" stroke-width="1"/>
<circle cx="215.9" cy="510.5" r="13.7" fill="#fff" stroke="#000" stroke-width="1.6"/>
<circle cx="202.3" cy="501.6" r="0.8" fill="#ddd" stroke="none" stroke-width="0"/>
<circle cx="229.5" cy="501.6" r="0.8" fill="#ddd" stroke="none" stroke-width="0"/>
<circle cx="215.9" cy="526.7" r="0.8" fill="#ddd" stroke="none" stroke-width="0"/>
<line x1="204.9" y1="510.5" x2="226.9" y2="510.5" stroke="#555" stroke-width="0.6"/>
<line x1="215.9" y1="497.5" x2="215.9" y2="523.5" stroke="#555" stroke-width="0.6"/>
<circle cx="215.9" cy="510.5" r="8.6" fill="none" stroke="#000" stroke-width="1.5"/>
<circle cx="215.9" cy="510.5" r="2.6" fill="#000" stroke="none" stroke-width="0"/>
<circle cx="260.2" cy="502.2" r="3" fill="#1a1a1a" stroke="#000" stroke-width="1"/>
<circle cx="286.6" cy="502.2" r="3" fill="#1a1a1a" stroke="#000" stroke-width="1"/>
<circle cx="273.4" cy="525.9" r="3" fill="#1a1a1a" stroke="#000" stroke-width="1"/>
<circle cx="273.4" cy="510.5" r="13.7" fill="#fff" stroke="#000" stroke-width="1.6"/>
<circle cx="259.8" cy="501.6" r="0.8" fill="#ddd" stroke="none" stroke-width="0"/>
<circle cx="287" cy="501.6" r="0.8" fill="#ddd" stroke="none" stroke-width="0"/>
<circle cx="273.4" cy="526.7" r="0.8" fill="#ddd" stroke="none" stroke-width="0"/>
<line x1="262.4" y1="510.5" x2="284.4" y2="510.5" stroke="#555" stroke-width="0.6"/>
<line x1="273.4" y1="497.5" x2="273.4" y2="523.5" stroke="#555" stroke-width="0.6"/>
<circle cx="273.4" cy="510.5" r="8.6" fill="none" stroke="#000" stroke-width="1.5"/>
<circle cx="273.4" cy="510.5" r="2.6" fill="#000" stroke="none" stroke-width="0"/>
<circle cx="317.6" cy="502.2" r="3" fill="#1a1a1a" stroke="#000" stroke-width="1"/>
<circle cx="344" cy="502.2" r="3" fill="#1a1a1a" stroke="#000" stroke-width="1"/>
<circle cx="330.8" cy="525.9" r="3" fill="#1a1a1a" stroke="#000" stroke-width="1"/>
<circle cx="330.8" cy="510.5" r="13.7" fill="#fff" stroke="#000" stroke-width="1.6"/>
<circle cx="317.2" cy="501.6" r="0.8" fill="#ddd" stroke="none" stroke-width="0"/>
<circle cx="344.4" cy="501.6" r="0.8" fill="#ddd" stroke="none" stroke-width="0"/>
<circle cx="330.8" cy="526.7" r="0.8" fill="#ddd" stroke="none" stroke-width="0"/>
<line x1="319.8" y1="510.5" x2="341.8" y2="510.5" stroke="#555" stroke-width="0.6"/>
<line x1="330.8" y1="497.5" x2="330.8" y2="523.5" stroke="#555" stroke-width="0.6"/>
<circle cx="330.8" cy="510.5" r="8.6" fill="none" stroke="#000" stroke-width="1.5"/>
<circle cx="330.8" cy="510.5" r="2.6" fill="#000" stroke="none" stroke-width="0"/>
<circle cx="302.2" cy="543.3" r="9.2" fill="#fff" stroke="#000" stroke-width="1.9"/>
<circle cx="302.2" cy="543.3" r="7.2" fill="none" stroke="#000" stroke-width="1"/>
<circle cx="302.2" cy="543.3" r="5.2" fill="none" stroke="#000" stroke-width="2"/>
<circle cx="304.2" cy="541.4" r="0.9" fill="#000" stroke="none" stroke-width="0"/>
<circle cx="179.9" cy="556.4" r="6.7" fill="#fff" stroke="#000" stroke-width="1.8"/>
<circle cx="179.9" cy="593.5" r="4.9" fill="#fff" stroke="#000" stroke-width="1.8"/>
<circle cx="179.9" cy="593.5" r="2.3" fill="#ccc" stroke="#333" stroke-width="0.7"/>
<line x1="177.6" y1="593.5" x2="182.2" y2="593.5" stroke="#333" stroke-width="0.6"/>
<line x1="179.9" y1="591.2" x2="179.9" y2="595.8" stroke="#333" stroke-width="0.6"/>
<rect x="196.5" y="577.6" width="149.9" height="27.2" fill="#fff" stroke="#000" stroke-width="1.4"/>
<line x1="273.5" y1="577.6" x2="273.5" y2="604.8" stroke="#858585" stroke-width="1"/>
<rect x="226.1" y="581.8" width="3.4" height="18.6" fill="#fff" stroke="#000" stroke-width="1.2" rx="0.8"/>
<circle cx="217.7" cy="591.1" r="9.3" fill="#fff" stroke="#000" stroke-width="1.6"/>
<path d="M223.9 588.7 A6.6 6.6 0 1 0 223.9 593.5" fill="none" stroke="#000" stroke-width="1.3"/>
<line x1="223.3" y1="588.5" x2="226.3" y2="588.5" stroke="#000" stroke-width="1"/>
<line x1="223.3" y1="593.5" x2="226.3" y2="593.5" stroke="#000" stroke-width="1"/>
<circle cx="217.7" cy="591.1" r="4.2" fill="#fff" stroke="#000" stroke-width="1.7"/>
<line x1="208.7" y1="591.1" x2="212.2" y2="591.1" stroke="#000" stroke-width="1.6"/>
<rect x="267.3" y="581.8" width="3.4" height="18.6" fill="#fff" stroke="#000" stroke-width="1.2" rx="0.8"/>
<circle cx="258.9" cy="591.1" r="9.3" fill="#fff" stroke="#000" stroke-width="1.6"/>
<path d="M265.1 588.7 A6.6 6.6 0 1 0 265.1 593.5" fill="none" stroke="#000" stroke-width="1.3"/>
<line x1="264.5" y1="588.5" x2="267.5" y2="588.5" stroke="#000" stroke-width="1"/>
<line x1="264.5" y1="593.5" x2="267.5" y2="593.5" stroke="#000" stroke-width="1"/>
<circle cx="258.9" cy="591.1" r="4.2" fill="#fff" stroke="#000" stroke-width="1.7"/>
<line x1="249.9" y1="591.1" x2="253.4" y2="591.1" stroke="#000" stroke-width="1.6"/>
<rect x="308.6" y="581.8" width="3.4" height="18.6" fill="#fff" stroke="#000" stroke-width="1.2" rx="0.8"/>
<circle cx="300.2" cy="591.1" r="9.3" fill="#fff" stroke="#000" stroke-width="1.6"/>
<path d="M306.4 588.7 A6.6 6.6 0 1 0 306.4 593.5" fill="none" stroke="#000" stroke-width="1.3"/>
<line x1="305.8" y1="588.5" x2="308.8" y2="588.5" stroke="#000" stroke-width="1"/>
<line x1="305.8" y1="593.5" x2="308.8" y2="593.5" stroke="#000" stroke-width="1"/>
<circle cx="300.2" cy="591.1" r="4.2" fill="#fff" stroke="#000" stroke-width="1.7"/>
<line x1="291.2" y1="591.1" x2="294.7" y2="591.1" stroke="#000" stroke-width="1.6"/>
<circle cx="335.5" cy="591.1" r="8.6" fill="#fff" stroke="#000" stroke-width="1.4"/>
<circle cx="335.5" cy="591.1" r="3.9" fill="#fff" stroke="#000" stroke-width="2.2"/>
<text x="215.9" y="537.4" font-family="'Liberation Sans', sans-serif" font-size="8.4" fill="#8c8c8c" text-anchor="middle" textLength="4.2" lengthAdjust="spacingAndGlyphs" stroke="#8c8c8c" stroke-width="0.42">C</text>
<text x="281.8" y="534.4" font-family="'Liberation Sans', sans-serif" font-size="8.4" fill="#8c8c8c" text-anchor="middle" textLength="4.2" lengthAdjust="spacingAndGlyphs" stroke="#8c8c8c" stroke-width="0.42">B</text>
<text x="343.4" y="533" font-family="'Liberation Sans', sans-serif" font-size="8.4" fill="#8c8c8c" text-anchor="middle" textLength="4.4" lengthAdjust="spacingAndGlyphs" stroke="#8c8c8c" stroke-width="0.42">A</text>
<text x="220.4" y="573.2" font-family="'Liberation Sans', sans-serif" font-size="8.4" fill="#8c8c8c" text-anchor="middle" textLength="3.2" lengthAdjust="spacingAndGlyphs" stroke="#8c8c8c" stroke-width="0.42">c</text>
<text x="259.8" y="573.2" font-family="'Liberation Sans', sans-serif" font-size="8.4" fill="#8c8c8c" text-anchor="middle" textLength="3.4" lengthAdjust="spacingAndGlyphs" stroke="#8c8c8c" stroke-width="0.42">b</text>
<text x="302.2" y="573.2" font-family="'Liberation Sans', sans-serif" font-size="8.4" fill="#8c8c8c" text-anchor="middle" textLength="3.4" lengthAdjust="spacingAndGlyphs" stroke="#8c8c8c" stroke-width="0.42">a</text>
<text x="336.6" y="573.2" font-family="'Liberation Sans', sans-serif" font-size="8.4" fill="#8c8c8c" text-anchor="middle" textLength="3.4" lengthAdjust="spacingAndGlyphs" stroke="#8c8c8c" stroke-width="0.42">0</text>
<line x1="435" y1="438.4" x2="361" y2="520.4" stroke="#2a2a2a" stroke-width="0.9"/>
<text x="426.4" y="434.9" font-family="'Liberation Mono', sans-serif" font-size="9.9" fill="#0f2a22" textLength="71" lengthAdjust="spacingAndGlyphs" stroke="#0f2a22" stroke-width="0.18">lifting lugs</text>
<line x1="310.6" y1="546" x2="464.5" y2="629.6" stroke="#2a2a2a" stroke-width="0.9"/>
<text x="466.3" y="630.9" font-family="'Liberation Sans', sans-serif" font-size="8.9" fill="#06120f" textLength="43" lengthAdjust="spacingAndGlyphs" stroke="#06120f" stroke-width="0.42">Tap changer</text>
<line x1="338" y1="594" x2="397.5" y2="665.5" stroke="#2a2a2a" stroke-width="0.9"/>
<line x1="397.5" y1="665.5" x2="467" y2="665.5" stroke="#6e6e6e" stroke-width="1"/>
<text x="420.8" y="661.9" font-family="'Liberation Sans', sans-serif" font-size="8.9" fill="#06120f" textLength="13.8" lengthAdjust="spacingAndGlyphs" stroke="#06120f" stroke-width="0.42">L. V</text>
<line x1="309.5" y1="600" x2="370" y2="702.5" stroke="#2a2a2a" stroke-width="0.9"/>
<line x1="370" y1="702.5" x2="443.3" y2="702.5" stroke="#6e6e6e" stroke-width="1"/>
<text x="390" y="698.1" font-family="'Liberation Sans', sans-serif" font-size="8.9" fill="#06120f" textLength="46.4" lengthAdjust="spacingAndGlyphs" stroke="#06120f" stroke-width="0.42">L . V  Bushing</text>
<line x1="177" y1="599.6" x2="113.8" y2="664.6" stroke="#2a2a2a" stroke-width="0.9"/>
<polygon points="178.4,598.2 175.85,602.69 173.98,600.88" fill="#111" stroke="none" stroke-width="0" stroke-linejoin="miter"/>
<text x="59.5" y="670.6" font-family="'Liberation Sans', sans-serif" font-size="8.9" fill="#06120f" textLength="69.8" lengthAdjust="spacingAndGlyphs" stroke="#06120f" stroke-width="0.42">Thermometer pocket</text>
<polyline points="128,693.5 167.5,693.5 207,619.6" fill="none" stroke="#555" stroke-width="0.9" stroke-linejoin="miter"/>
<text x="128.4" y="689.6" font-family="'Liberation Sans', sans-serif" font-size="12.2" fill="#707070" textLength="4.6" lengthAdjust="spacingAndGlyphs">4</text>
<line x1="134.4" y1="685.6" x2="138.6" y2="685.6" stroke="#707070" stroke-width="0.9"/>
<ellipse cx="146.2" cy="685.3" rx="3.1" ry="3.9" fill="none" stroke="#707070" stroke-width="0.9" transform="rotate(18 146.2 685.3)"/>
<line x1="143.6" y1="690.6" x2="149.2" y2="680" stroke="#707070" stroke-width="0.9"/>
<text x="152.8" y="689.6" font-family="'Liberation Sans', sans-serif" font-size="12.2" fill="#707070" textLength="10.8" lengthAdjust="spacingAndGlyphs">18</text>
<polygon points="773.9,502.9 787.9,494.9 787.9,536 773.9,536" fill="#fff" stroke="#000" stroke-width="1" stroke-linejoin="miter"/>
<line x1="785.5" y1="496.6" x2="785.5" y2="536" stroke="#000" stroke-width="1"/>
<line x1="776.5" y1="501.6" x2="776.5" y2="528" stroke="#000" stroke-width="1"/>
<polygon points="718,454.6 787.9,494.9 771.9,504.1 702,463.8" fill="#000" stroke="#000" stroke-width="1" stroke-linejoin="round"/>
<line x1="719.1" y1="456.34" x2="705.02" y2="464.43" stroke="#c8c8c8" stroke-width="0.7"/>
<line x1="723.21" y1="458.71" x2="709.13" y2="466.8" stroke="#c8c8c8" stroke-width="0.7"/>
<line x1="727.32" y1="461.08" x2="713.24" y2="469.17" stroke="#c8c8c8" stroke-width="0.7"/>
<line x1="731.43" y1="463.45" x2="717.35" y2="471.55" stroke="#c8c8c8" stroke-width="0.7"/>
<line x1="735.54" y1="465.82" x2="721.46" y2="473.92" stroke="#c8c8c8" stroke-width="0.7"/>
<line x1="739.65" y1="468.19" x2="725.57" y2="476.29" stroke="#c8c8c8" stroke-width="0.7"/>
<line x1="743.77" y1="470.56" x2="729.69" y2="478.66" stroke="#c8c8c8" stroke-width="0.7"/>
<line x1="747.88" y1="472.93" x2="733.8" y2="481.03" stroke="#c8c8c8" stroke-width="0.7"/>
<line x1="751.99" y1="475.3" x2="737.91" y2="483.4" stroke="#c8c8c8" stroke-width="0.7"/>
<line x1="756.1" y1="477.67" x2="742.02" y2="485.77" stroke="#c8c8c8" stroke-width="0.7"/>
<line x1="760.21" y1="480.04" x2="746.13" y2="488.14" stroke="#c8c8c8" stroke-width="0.7"/>
<line x1="764.33" y1="482.41" x2="750.25" y2="490.51" stroke="#c8c8c8" stroke-width="0.7"/>
<line x1="768.44" y1="484.78" x2="754.36" y2="492.88" stroke="#c8c8c8" stroke-width="0.7"/>
<line x1="772.55" y1="487.15" x2="758.47" y2="495.25" stroke="#c8c8c8" stroke-width="0.7"/>
<line x1="776.66" y1="489.53" x2="762.58" y2="497.62" stroke="#c8c8c8" stroke-width="0.7"/>
<line x1="780.77" y1="491.9" x2="766.69" y2="499.99" stroke="#c8c8c8" stroke-width="0.7"/>
<line x1="784.88" y1="494.27" x2="770.8" y2="502.36" stroke="#c8c8c8" stroke-width="0.7"/>
<polygon points="618,472.8 633,481.4 640,500 640,520 618,535" fill="#fff" stroke="#000" stroke-width="1" stroke-linejoin="miter"/>
<line x1="619.5" y1="474" x2="619.5" y2="534" stroke="#000" stroke-width="1"/>
<polygon points="618,472.8 651.5,454.1 668.5,463.5 635,482.2" fill="#000" stroke="#000" stroke-width="1" stroke-linejoin="round"/>
<line x1="621.11" y1="472.2" x2="636.07" y2="480.47" stroke="#c8c8c8" stroke-width="0.7"/>
<line x1="625.3" y1="469.86" x2="640.26" y2="478.13" stroke="#c8c8c8" stroke-width="0.7"/>
<line x1="629.49" y1="467.52" x2="644.45" y2="475.79" stroke="#c8c8c8" stroke-width="0.7"/>
<line x1="633.68" y1="465.18" x2="648.64" y2="473.45" stroke="#c8c8c8" stroke-width="0.7"/>
<line x1="637.86" y1="462.85" x2="652.82" y2="471.12" stroke="#c8c8c8" stroke-width="0.7"/>
<line x1="642.05" y1="460.51" x2="657.01" y2="468.78" stroke="#c8c8c8" stroke-width="0.7"/>
<line x1="646.24" y1="458.17" x2="661.2" y2="466.44" stroke="#c8c8c8" stroke-width="0.7"/>
<line x1="650.43" y1="455.83" x2="665.39" y2="464.1" stroke="#c8c8c8" stroke-width="0.7"/>
<line x1="630.5" y1="488" x2="630.5" y2="505" stroke="#000" stroke-width="1"/>
<line x1="631.4" y1="489" x2="631.4" y2="505.5" stroke="#000" stroke-width="0.7"/>
<line x1="635.5" y1="491" x2="635.5" y2="503" stroke="#000" stroke-width="1"/>
<line x1="637.5" y1="492" x2="637.5" y2="502" stroke="#000" stroke-width="1"/>
<rect x="637.4" y="492.8" width="3.6" height="5.4" fill="#fff" stroke="#000" stroke-width="0.8" rx="0.8"/>
<polygon points="628.4,485.5 724.2,537.6 724.2,541.6 638.4,494.5" fill="#fff" stroke="#000" stroke-width="0.8" stroke-linejoin="miter"/>
<polygon points="724.2,537.6 778.6,507.6 778.6,513.6 724.2,541.6" fill="#fff" stroke="#000" stroke-width="0.8" stroke-linejoin="miter"/>
<polygon points="628.4,485.5 724.2,537.6 778.6,507.6 683.7,453.2" fill="#fff" stroke="#000" stroke-width="1.2" stroke-linejoin="round"/>
<polyline points="628.7,487.3 724.2,539.6 779,509.4" fill="none" stroke="#000" stroke-width="1.1" stroke-linejoin="round"/>
<circle cx="633.8" cy="483.25" r="1.75" fill="#000" stroke="none" stroke-width="0"/>
<circle cx="642" cy="488" r="1.75" fill="#000" stroke="none" stroke-width="0"/>
<circle cx="650.2" cy="492.75" r="1.75" fill="#000" stroke="none" stroke-width="0"/>
<circle cx="658.4" cy="497.5" r="1.75" fill="#000" stroke="none" stroke-width="0"/>
<circle cx="666.6" cy="502.25" r="1.75" fill="#000" stroke="none" stroke-width="0"/>
<circle cx="674.8" cy="507" r="1.75" fill="#000" stroke="none" stroke-width="0"/>
<circle cx="683" cy="511.75" r="1.75" fill="#000" stroke="none" stroke-width="0"/>
<circle cx="691.2" cy="516.5" r="1.75" fill="#000" stroke="none" stroke-width="0"/>
<circle cx="699.4" cy="521.25" r="1.75" fill="#000" stroke="none" stroke-width="0"/>
<circle cx="707.6" cy="526" r="1.75" fill="#000" stroke="none" stroke-width="0"/>
<circle cx="715.8" cy="530.75" r="1.75" fill="#000" stroke="none" stroke-width="0"/>
<circle cx="724" cy="535.5" r="1.75" fill="#000" stroke="none" stroke-width="0"/>
<circle cx="732.32" cy="530.67" r="1.75" fill="#000" stroke="none" stroke-width="0"/>
<circle cx="740.63" cy="525.83" r="1.75" fill="#000" stroke="none" stroke-width="0"/>
<circle cx="748.95" cy="521" r="1.75" fill="#000" stroke="none" stroke-width="0"/>
<circle cx="757.27" cy="516.17" r="1.75" fill="#000" stroke="none" stroke-width="0"/>
<circle cx="765.58" cy="511.33" r="1.75" fill="#000" stroke="none" stroke-width="0"/>
<circle cx="773.9" cy="506.5" r="1.75" fill="#000" stroke="none" stroke-width="0"/>
<circle cx="642.12" cy="478.42" r="1.65" fill="#000" stroke="none" stroke-width="0"/>
<circle cx="650.43" cy="473.58" r="1.65" fill="#000" stroke="none" stroke-width="0"/>
<circle cx="658.75" cy="468.75" r="1.65" fill="#000" stroke="none" stroke-width="0"/>
<circle cx="675.38" cy="459.08" r="1.65" fill="#000" stroke="none" stroke-width="0"/>
<circle cx="683.7" cy="454.25" r="1.65" fill="#000" stroke="none" stroke-width="0"/>
<circle cx="724.7" cy="478" r="1.65" fill="#000" stroke="none" stroke-width="0"/>
<circle cx="749.3" cy="492.25" r="1.65" fill="#000" stroke="none" stroke-width="0"/>
<circle cx="757.5" cy="497" r="1.65" fill="#000" stroke="none" stroke-width="0"/>
<circle cx="765.7" cy="501.75" r="1.65" fill="#000" stroke="none" stroke-width="0"/>
<polygon points="654,488.4 662.4,484 720.6,518.6 712.2,523.2" fill="#fff" stroke="#000" stroke-width="0.9" stroke-linejoin="miter"/>
<ellipse cx="681.6" cy="467.4" rx="2.5" ry="3.7" fill="#000" stroke="#000" stroke-width="0.5"/>
<ellipse cx="658.4" cy="480.2" rx="2.4" ry="3.4" fill="#000" stroke="#000" stroke-width="0.5"/>
<ellipse cx="726" cy="519.2" rx="2.6" ry="3.6" fill="#000" stroke="#000" stroke-width="0.5"/>
<polygon points="746.8,501.8 751.4,504 752.2,510 748,508.4" fill="#000" stroke="#000" stroke-width="0.8" stroke-linejoin="round"/>
<rect x="648.8" y="476.2" width="4.8" height="8.6" fill="#fff" stroke="#000" stroke-width="0.9" rx="1.2"/>
<ellipse cx="651.2" cy="476.4" rx="2.4" ry="1.1" fill="#fff" stroke="#000" stroke-width="0.9"/>
<rect x="650.4" y="471.6" width="1.6" height="4" fill="#111" stroke="#000" stroke-width="0.6"/>
<rect x="662.6" y="444.6" width="6.8" height="28.2" fill="#fff" stroke="#000" stroke-width="1.1"/>
<ellipse cx="666" cy="444.4" rx="3.4" ry="1.7" fill="#fff" stroke="#000" stroke-width="1.1"/>
<ellipse cx="666" cy="447.6" rx="3.4" ry="1.5" fill="none" stroke="#333" stroke-width="0.7"/>
<line x1="664.4" y1="450" x2="664.4" y2="471" stroke="#555" stroke-width="0.6"/>
<rect x="665" y="456" width="2.6" height="2.6" fill="#222" stroke="none" stroke-width="0"/>
<polygon points="661.4,472 666,474.4 670.6,472 670.6,478.6 666,481 661.4,478.6" fill="#111" stroke="#000" stroke-width="0.8" stroke-linejoin="round"/>
<polygon points="688.5,474.6 698.4,480.2 707.9,475.2 707.9,471.6 688.5,471.2" fill="#0c0c0c" stroke="#000" stroke-width="0.8" stroke-linejoin="round"/>
<rect x="693.7" y="475" width="8" height="1.8" fill="#fff" stroke="none" stroke-width="0"/>
<ellipse cx="697.9" cy="472.2" rx="7.3" ry="2.7" fill="#fff" stroke="#000" stroke-width="1.4"/>
<rect x="690.6" y="468" width="14.6" height="4.2" fill="#fff" stroke="none" stroke-width="0"/>
<line x1="690.6" y1="468" x2="690.6" y2="472.2" stroke="#000" stroke-width="1.4"/>
<line x1="705.2" y1="468" x2="705.2" y2="472.2" stroke="#000" stroke-width="1.4"/>
<ellipse cx="697.9" cy="467" rx="7.3" ry="2.7" fill="#fff" stroke="#000" stroke-width="1.4"/>
<rect x="690.6" y="462.8" width="14.6" height="4.2" fill="#fff" stroke="none" stroke-width="0"/>
<line x1="690.6" y1="462.8" x2="690.6" y2="467" stroke="#000" stroke-width="1.4"/>
<line x1="705.2" y1="462.8" x2="705.2" y2="467" stroke="#000" stroke-width="1.4"/>
<ellipse cx="697.9" cy="461.8" rx="7.3" ry="2.7" fill="#fff" stroke="#000" stroke-width="1.4"/>
<rect x="690.6" y="457.6" width="14.6" height="4.2" fill="#fff" stroke="none" stroke-width="0"/>
<line x1="690.6" y1="457.6" x2="690.6" y2="461.8" stroke="#000" stroke-width="1.4"/>
<line x1="705.2" y1="457.6" x2="705.2" y2="461.8" stroke="#000" stroke-width="1.4"/>
<ellipse cx="697.9" cy="457.6" rx="7.3" ry="2.7" fill="#fff" stroke="#000" stroke-width="1.4"/>
<ellipse cx="697.9" cy="457.2" rx="4.6" ry="1.8" fill="#000" stroke="#000" stroke-width="1.2"/>
<ellipse cx="697.9" cy="456.4" rx="2.2" ry="0.9" fill="#fff" stroke="#000" stroke-width="0.6"/>
<rect x="696.9" y="447.4" width="2" height="9.2" fill="#111" stroke="#000" stroke-width="0.9"/>
<polygon points="710.7,486.6 720.6,492.2 730.1,487.2 730.1,483.6 710.7,483.2" fill="#0c0c0c" stroke="#000" stroke-width="0.8" stroke-linejoin="round"/>
<rect x="715.9" y="487" width="8" height="1.8" fill="#fff" stroke="none" stroke-width="0"/>
<ellipse cx="720.1" cy="484.2" rx="7.3" ry="2.7" fill="#fff" stroke="#000" stroke-width="1.4"/>
<rect x="712.8" y="480" width="14.6" height="4.2" fill="#fff" stroke="none" stroke-width="0"/>
<line x1="712.8" y1="480" x2="712.8" y2="484.2" stroke="#000" stroke-width="1.4"/>
<line x1="727.4" y1="480" x2="727.4" y2="484.2" stroke="#000" stroke-width="1.4"/>
<ellipse cx="720.1" cy="479" rx="7.3" ry="2.7" fill="#fff" stroke="#000" stroke-width="1.4"/>
<rect x="712.8" y="474.8" width="14.6" height="4.2" fill="#fff" stroke="none" stroke-width="0"/>
<line x1="712.8" y1="474.8" x2="712.8" y2="479" stroke="#000" stroke-width="1.4"/>
<line x1="727.4" y1="474.8" x2="727.4" y2="479" stroke="#000" stroke-width="1.4"/>
<ellipse cx="720.1" cy="473.8" rx="7.3" ry="2.7" fill="#fff" stroke="#000" stroke-width="1.4"/>
<rect x="712.8" y="469.6" width="14.6" height="4.2" fill="#fff" stroke="none" stroke-width="0"/>
<line x1="712.8" y1="469.6" x2="712.8" y2="473.8" stroke="#000" stroke-width="1.4"/>
<line x1="727.4" y1="469.6" x2="727.4" y2="473.8" stroke="#000" stroke-width="1.4"/>
<ellipse cx="720.1" cy="469.6" rx="7.3" ry="2.7" fill="#fff" stroke="#000" stroke-width="1.4"/>
<ellipse cx="720.1" cy="469.2" rx="4.6" ry="1.8" fill="#000" stroke="#000" stroke-width="1.2"/>
<ellipse cx="720.1" cy="468.4" rx="2.2" ry="0.9" fill="#fff" stroke="#000" stroke-width="0.6"/>
<rect x="719.1" y="459.4" width="2" height="9.2" fill="#111" stroke="#000" stroke-width="0.9"/>
<polygon points="732.9,498.6 742.8,504.2 752.3,499.2 752.3,495.6 732.9,495.2" fill="#0c0c0c" stroke="#000" stroke-width="0.8" stroke-linejoin="round"/>
<rect x="738.1" y="499" width="8" height="1.8" fill="#fff" stroke="none" stroke-width="0"/>
<ellipse cx="742.3" cy="496.2" rx="7.3" ry="2.7" fill="#fff" stroke="#000" stroke-width="1.4"/>
<rect x="735" y="492" width="14.6" height="4.2" fill="#fff" stroke="none" stroke-width="0"/>
<line x1="735" y1="492" x2="735" y2="496.2" stroke="#000" stroke-width="1.4"/>
<line x1="749.6" y1="492" x2="749.6" y2="496.2" stroke="#000" stroke-width="1.4"/>
<ellipse cx="742.3" cy="491" rx="7.3" ry="2.7" fill="#fff" stroke="#000" stroke-width="1.4"/>
<rect x="735" y="486.8" width="14.6" height="4.2" fill="#fff" stroke="none" stroke-width="0"/>
<line x1="735" y1="486.8" x2="735" y2="491" stroke="#000" stroke-width="1.4"/>
<line x1="749.6" y1="486.8" x2="749.6" y2="491" stroke="#000" stroke-width="1.4"/>
<ellipse cx="742.3" cy="485.8" rx="7.3" ry="2.7" fill="#fff" stroke="#000" stroke-width="1.4"/>
<rect x="735" y="481.6" width="14.6" height="4.2" fill="#fff" stroke="none" stroke-width="0"/>
<line x1="735" y1="481.6" x2="735" y2="485.8" stroke="#000" stroke-width="1.4"/>
<line x1="749.6" y1="481.6" x2="749.6" y2="485.8" stroke="#000" stroke-width="1.4"/>
<ellipse cx="742.3" cy="481.6" rx="7.3" ry="2.7" fill="#fff" stroke="#000" stroke-width="1.4"/>
<ellipse cx="742.3" cy="481.2" rx="4.6" ry="1.8" fill="#000" stroke="#000" stroke-width="1.2"/>
<ellipse cx="742.3" cy="480.4" rx="2.2" ry="0.9" fill="#fff" stroke="#000" stroke-width="0.6"/>
<rect x="741.3" y="471.4" width="2" height="9.2" fill="#111" stroke="#000" stroke-width="0.9"/>
<ellipse cx="718.2" cy="503.6" rx="5.2" ry="2.4" fill="#fff" stroke="#000" stroke-width="1.2"/>
<rect x="714.4" y="494.4" width="7.6" height="8" fill="#fff" stroke="#000" stroke-width="1" rx="1"/>
<ellipse cx="718.2" cy="494.6" rx="3.8" ry="1.7" fill="#fff" stroke="#000" stroke-width="1"/>
<ellipse cx="666.8" cy="492.2" rx="5.8" ry="2.8" fill="#fff" stroke="#000" stroke-width="1.4"/>
<ellipse cx="666.8" cy="489.5" rx="5" ry="2.4" fill="#fff" stroke="#000" stroke-width="1.3"/>
<ellipse cx="666.8" cy="486.8" rx="5" ry="2.4" fill="#fff" stroke="#000" stroke-width="1.3"/>
<rect x="664" y="480.2" width="5.6" height="5.8" fill="#fff" stroke="#000" stroke-width="1.1"/>
<ellipse cx="666.8" cy="485.8" rx="2.8" ry="1.3" fill="#fff" stroke="#000" stroke-width="1"/>
<rect x="663.6" y="476.2" width="6.2" height="5.4" fill="#0a0a0a" stroke="#000" stroke-width="0.8"/>
<polygon points="666,478.2 667.4,469.2 674.4,465.2 675.4,472.8 670.2,478.8" fill="#0a0a0a" stroke="#000" stroke-width="0.8" stroke-linejoin="round"/>
<line x1="671.2" y1="468.2" x2="670.9" y2="475.8" stroke="#fff" stroke-width="1.3"/>
<line x1="668.6" y1="473" x2="674" y2="470.8" stroke="#fff" stroke-width="1.3"/>
<ellipse cx="683.4" cy="501.4" rx="5.8" ry="2.8" fill="#fff" stroke="#000" stroke-width="1.4"/>
<ellipse cx="683.4" cy="498.7" rx="5" ry="2.4" fill="#fff" stroke="#000" stroke-width="1.3"/>
<ellipse cx="683.4" cy="496" rx="5" ry="2.4" fill="#fff" stroke="#000" stroke-width="1.3"/>
<rect x="680.6" y="489.4" width="5.6" height="5.8" fill="#fff" stroke="#000" stroke-width="1.1"/>
<ellipse cx="683.4" cy="495" rx="2.8" ry="1.3" fill="#fff" stroke="#000" stroke-width="1"/>
<rect x="680.2" y="485.4" width="6.2" height="5.4" fill="#0a0a0a" stroke="#000" stroke-width="0.8"/>
<polygon points="682.6,487.4 684,478.4 691,474.4 692,482 686.8,488" fill="#0a0a0a" stroke="#000" stroke-width="0.8" stroke-linejoin="round"/>
<line x1="687.8" y1="477.4" x2="687.5" y2="485" stroke="#fff" stroke-width="1.3"/>
<line x1="685.2" y1="482.2" x2="690.6" y2="480" stroke="#fff" stroke-width="1.3"/>
<ellipse cx="699.6" cy="511" rx="5.8" ry="2.8" fill="#fff" stroke="#000" stroke-width="1.4"/>
<ellipse cx="699.6" cy="508.3" rx="5" ry="2.4" fill="#fff" stroke="#000" stroke-width="1.3"/>
<ellipse cx="699.6" cy="505.6" rx="5" ry="2.4" fill="#fff" stroke="#000" stroke-width="1.3"/>
<rect x="696.8" y="499" width="5.6" height="5.8" fill="#fff" stroke="#000" stroke-width="1.1"/>
<ellipse cx="699.6" cy="504.6" rx="2.8" ry="1.3" fill="#fff" stroke="#000" stroke-width="1"/>
<rect x="696.4" y="495" width="6.2" height="5.4" fill="#0a0a0a" stroke="#000" stroke-width="0.8"/>
<polygon points="698.8,497 700.2,488 707.2,484 708.2,491.6 703,497.6" fill="#0a0a0a" stroke="#000" stroke-width="0.8" stroke-linejoin="round"/>
<line x1="704" y1="487" x2="703.7" y2="494.6" stroke="#fff" stroke-width="1.3"/>
<line x1="701.4" y1="491.8" x2="706.8" y2="489.6" stroke="#fff" stroke-width="1.3"/>
<ellipse cx="712.4" cy="518.8" rx="5.8" ry="2.8" fill="#fff" stroke="#000" stroke-width="1.4"/>
<ellipse cx="712.4" cy="516.1" rx="5" ry="2.4" fill="#fff" stroke="#000" stroke-width="1.3"/>
<ellipse cx="712.4" cy="513.4" rx="5" ry="2.4" fill="#fff" stroke="#000" stroke-width="1.3"/>
<rect x="709.6" y="506.8" width="5.6" height="5.8" fill="#fff" stroke="#000" stroke-width="1.1"/>
<ellipse cx="712.4" cy="512.4" rx="2.8" ry="1.3" fill="#fff" stroke="#000" stroke-width="1"/>
<rect x="709.2" y="502.8" width="6.2" height="5.4" fill="#0a0a0a" stroke="#000" stroke-width="0.8"/>
<polygon points="711.4,505.2 712.6,497.6 713.6,497.6 714.2,505.2" fill="#111" stroke="#000" stroke-width="0.6" stroke-linejoin="miter"/>
<polygon points="620.4,512.2 689.9,552.2 689.9,612.4 620.4,572.8" fill="#000" stroke="#000" stroke-width="1" stroke-linejoin="round"/>
<line x1="622.44" y1="514.58" x2="622.44" y2="572.36" stroke="#fff" stroke-width="1.9"/>
<line x1="626.53" y1="516.93" x2="626.53" y2="574.69" stroke="#fff" stroke-width="1.9"/>
<line x1="630.62" y1="519.28" x2="630.62" y2="577.02" stroke="#fff" stroke-width="1.9"/>
<line x1="634.71" y1="521.64" x2="634.71" y2="579.35" stroke="#fff" stroke-width="1.9"/>
<line x1="638.8" y1="523.99" x2="638.8" y2="581.68" stroke="#fff" stroke-width="1.9"/>
<line x1="642.89" y1="526.34" x2="642.89" y2="584.01" stroke="#fff" stroke-width="1.9"/>
<line x1="646.97" y1="528.69" x2="646.97" y2="586.34" stroke="#fff" stroke-width="1.9"/>
<line x1="651.06" y1="531.05" x2="651.06" y2="588.67" stroke="#fff" stroke-width="1.9"/>
<line x1="655.15" y1="533.4" x2="655.15" y2="591" stroke="#fff" stroke-width="1.9"/>
<line x1="659.24" y1="535.75" x2="659.24" y2="593.33" stroke="#fff" stroke-width="1.9"/>
<line x1="663.33" y1="538.11" x2="663.33" y2="595.66" stroke="#fff" stroke-width="1.9"/>
<line x1="667.41" y1="540.46" x2="667.41" y2="597.99" stroke="#fff" stroke-width="1.9"/>
<line x1="671.5" y1="542.81" x2="671.5" y2="600.32" stroke="#fff" stroke-width="1.9"/>
<line x1="675.59" y1="545.16" x2="675.59" y2="602.65" stroke="#fff" stroke-width="1.9"/>
<line x1="679.68" y1="547.52" x2="679.68" y2="604.98" stroke="#fff" stroke-width="1.9"/>
<line x1="683.77" y1="549.87" x2="683.77" y2="607.31" stroke="#fff" stroke-width="1.9"/>
<line x1="687.86" y1="552.22" x2="687.86" y2="609.64" stroke="#fff" stroke-width="1.9"/>
<polygon points="620.4,512.2 689.9,552.2 715.5,538.6 646,498.6" fill="#000" stroke="#000" stroke-width="1" stroke-linejoin="round"/>
<line x1="623.98" y1="512.56" x2="646.51" y2="500.59" stroke="#c8c8c8" stroke-width="0.8"/>
<line x1="628.07" y1="514.91" x2="650.6" y2="502.95" stroke="#c8c8c8" stroke-width="0.8"/>
<line x1="632.16" y1="517.27" x2="654.68" y2="505.3" stroke="#c8c8c8" stroke-width="0.8"/>
<line x1="636.24" y1="519.62" x2="658.77" y2="507.65" stroke="#c8c8c8" stroke-width="0.8"/>
<line x1="640.33" y1="521.97" x2="662.86" y2="510" stroke="#c8c8c8" stroke-width="0.8"/>
<line x1="644.42" y1="524.33" x2="666.95" y2="512.36" stroke="#c8c8c8" stroke-width="0.8"/>
<line x1="648.51" y1="526.68" x2="671.04" y2="514.71" stroke="#c8c8c8" stroke-width="0.8"/>
<line x1="652.6" y1="529.03" x2="675.13" y2="517.06" stroke="#c8c8c8" stroke-width="0.8"/>
<line x1="656.69" y1="531.38" x2="679.21" y2="519.42" stroke="#c8c8c8" stroke-width="0.8"/>
<line x1="660.77" y1="533.74" x2="683.3" y2="521.77" stroke="#c8c8c8" stroke-width="0.8"/>
<line x1="664.86" y1="536.09" x2="687.39" y2="524.12" stroke="#c8c8c8" stroke-width="0.8"/>
<line x1="668.95" y1="538.44" x2="691.48" y2="526.47" stroke="#c8c8c8" stroke-width="0.8"/>
<line x1="673.04" y1="540.8" x2="695.57" y2="528.83" stroke="#c8c8c8" stroke-width="0.8"/>
<line x1="677.13" y1="543.15" x2="699.66" y2="531.18" stroke="#c8c8c8" stroke-width="0.8"/>
<line x1="681.22" y1="545.5" x2="703.74" y2="533.53" stroke="#c8c8c8" stroke-width="0.8"/>
<line x1="685.3" y1="547.85" x2="707.83" y2="535.89" stroke="#c8c8c8" stroke-width="0.8"/>
<line x1="689.39" y1="550.21" x2="711.92" y2="538.24" stroke="#c8c8c8" stroke-width="0.8"/>
<polygon points="689.9,552.2 715.5,538.6 715.5,598.2 689.9,612.4" fill="#fff" stroke="#000" stroke-width="1.3" stroke-linejoin="round"/>
<rect x="701.0" y="551.4" width="3.8" height="46.4" rx="1.9" fill="#fff" stroke="#000" stroke-width="1.25" transform="skewY(-4) translate(0 49.1)"/>
<polygon points="649.2,533.6 660.6,540.2 660.6,549.6 649.2,543" fill="#fff" stroke="#000" stroke-width="0.8" stroke-linejoin="round"/>
<polygon points="637.2,585.4 641,587.6 642.8,586.6 642.8,588.4 640.6,589.6 637.2,587.6" fill="#555" stroke="#000" stroke-width="0.6" stroke-linejoin="miter"/>
<line x1="620.6" y1="513.5" x2="620.6" y2="534" stroke="#555" stroke-width="1.4"/>
<polygon points="716.2,540.4 722.6,543.6 729.2,540.4 729.2,608.4 722.6,612.4 716.2,608.6" fill="#fff" stroke="#000" stroke-width="1" stroke-linejoin="round"/>
<line x1="719.5" y1="542" x2="719.5" y2="610.4" stroke="#000" stroke-width="1"/>
<line x1="722.6" y1="543.6" x2="722.6" y2="612.4" stroke="#333" stroke-width="1.8"/>
<line x1="725.5" y1="542.2" x2="725.5" y2="610.6" stroke="#000" stroke-width="1"/>
<circle cx="724.2" cy="538.8" r="1.5" fill="#000" stroke="none" stroke-width="0"/>
<polygon points="756.8,553.6 789.6,534.2 762.6,521 729.8,540.4" fill="#000" stroke="#000" stroke-width="1" stroke-linejoin="round"/>
<line x1="757.23" y1="551.6" x2="733.47" y2="539.98" stroke="#c8c8c8" stroke-width="0.8"/>
<line x1="761.33" y1="549.17" x2="737.57" y2="537.55" stroke="#c8c8c8" stroke-width="0.8"/>
<line x1="765.43" y1="546.75" x2="741.67" y2="535.13" stroke="#c8c8c8" stroke-width="0.8"/>
<line x1="769.53" y1="544.32" x2="745.77" y2="532.7" stroke="#c8c8c8" stroke-width="0.8"/>
<line x1="773.63" y1="541.9" x2="749.87" y2="530.28" stroke="#c8c8c8" stroke-width="0.8"/>
<line x1="777.73" y1="539.47" x2="753.97" y2="527.85" stroke="#c8c8c8" stroke-width="0.8"/>
<line x1="781.83" y1="537.05" x2="758.07" y2="525.43" stroke="#c8c8c8" stroke-width="0.8"/>
<line x1="785.93" y1="534.62" x2="762.17" y2="523" stroke="#c8c8c8" stroke-width="0.8"/>
<polygon points="729.8,540.4 756.8,553.6 756.8,613.6 729.8,597.8" fill="#fff" stroke="#000" stroke-width="1.3" stroke-linejoin="round"/>
<rect x="740.6" y="551.4" width="4.0" height="48.4" rx="2" fill="#fff" stroke="#000" stroke-width="1.25"/>
<polygon points="756.8,553.6 789.6,534.2 789.6,595.4 756.8,613.6" fill="#000" stroke="#000" stroke-width="1" stroke-linejoin="round"/>
<line x1="758.85" y1="553.59" x2="758.85" y2="610.86" stroke="#fff" stroke-width="2.5"/>
<line x1="762.95" y1="551.16" x2="762.95" y2="608.59" stroke="#fff" stroke-width="2.5"/>
<line x1="767.05" y1="548.74" x2="767.05" y2="606.31" stroke="#fff" stroke-width="2.5"/>
<line x1="771.15" y1="546.31" x2="771.15" y2="604.04" stroke="#fff" stroke-width="2.5"/>
<line x1="775.25" y1="543.89" x2="775.25" y2="601.76" stroke="#fff" stroke-width="2.5"/>
<line x1="779.35" y1="541.46" x2="779.35" y2="599.49" stroke="#fff" stroke-width="2.5"/>
<line x1="783.45" y1="539.04" x2="783.45" y2="597.21" stroke="#fff" stroke-width="2.5"/>
<line x1="787.55" y1="536.61" x2="787.55" y2="594.94" stroke="#fff" stroke-width="2.5"/>
<polygon points="695.8,612 717.6,600.4 720.4,602 720.4,609.6 698.6,621.6 695.8,620" fill="#fff" stroke="#000" stroke-width="1" stroke-linejoin="round"/>
<line x1="698.6" y1="613.8" x2="720.2" y2="602.2" stroke="#000" stroke-width="0.9"/>
<line x1="698.5" y1="613.8" x2="698.5" y2="621.4" stroke="#000" stroke-width="1"/>
<line x1="695.8" y1="612" x2="698.6" y2="613.8" stroke="#000" stroke-width="0.9"/>
<line x1="698.8" y1="617.6" x2="720.2" y2="606" stroke="#000" stroke-width="0.8"/>
<polygon points="729.2,600 738.4,604.8 729.2,609.6" fill="#fff" stroke="#000" stroke-width="0.9" stroke-linejoin="miter"/>
<line x1="704.2" y1="453.4" x2="729.6" y2="425.5" stroke="#2a2a2a" stroke-width="0.9"/>
<line x1="729.6" y1="425.5" x2="773" y2="425.5" stroke="#6e6e6e" stroke-width="1"/>
<text x="732" y="423.7" font-family="'Liberation Sans', sans-serif" font-size="8.9" fill="#06120f" textLength="45" lengthAdjust="spacingAndGlyphs" stroke="#06120f" stroke-width="0.42">H. V  bushing</text>
<text x="880.2" y="459.2" font-family="'Liberation Sans', sans-serif" font-size="7.6" fill="#888" text-anchor="middle" textLength="3.6" lengthAdjust="spacingAndGlyphs" stroke="#888" stroke-width="0.42">V</text>
<line x1="870" y1="464.5" x2="890" y2="464.5" stroke="#444" stroke-width="1"/>
<text x="872.6" y="477.2" font-family="'Liberation Sans', sans-serif" font-size="7.6" fill="#888" text-anchor="middle" textLength="2.6" lengthAdjust="spacingAndGlyphs" stroke="#888" stroke-width="0.42">1</text>
<text x="880.2" y="477.2" font-family="'Liberation Sans', sans-serif" font-size="7.6" fill="#888" text-anchor="middle" stroke="#888" stroke-width="0.42">:</text>
<text x="887.2" y="477.2" font-family="'Liberation Sans', sans-serif" font-size="7.6" fill="#888" text-anchor="middle" textLength="3.4" lengthAdjust="spacingAndGlyphs" stroke="#888" stroke-width="0.42">3</text>
<rect x="875.5" y="518.4" width="11.1" height="24.2" fill="#fff" stroke="#000" stroke-width="1.3"/>
<rect x="871.6" y="542.6" width="18.2" height="28.2" fill="#fff" stroke="#000" stroke-width="1.3" rx="1.5"/>
<line x1="871.6" y1="548.5" x2="889.8" y2="548.5" stroke="#000" stroke-width="1"/>
<line x1="871.6" y1="554.5" x2="889.8" y2="554.5" stroke="#000" stroke-width="1"/>
<line x1="871.6" y1="559.5" x2="889.8" y2="559.5" stroke="#000" stroke-width="1"/>
<line x1="871.6" y1="562.5" x2="889.8" y2="562.5" stroke="#000" stroke-width="1"/>
<line x1="876.5" y1="542.6" x2="876.5" y2="570.8" stroke="#000" stroke-width="1"/>
<line x1="885.5" y1="542.6" x2="885.5" y2="570.8" stroke="#000" stroke-width="1"/>
<rect x="877" y="549" width="7.6" height="4.6" fill="#fff" stroke="none" stroke-width="0"/>
</svg>
</body></html>
